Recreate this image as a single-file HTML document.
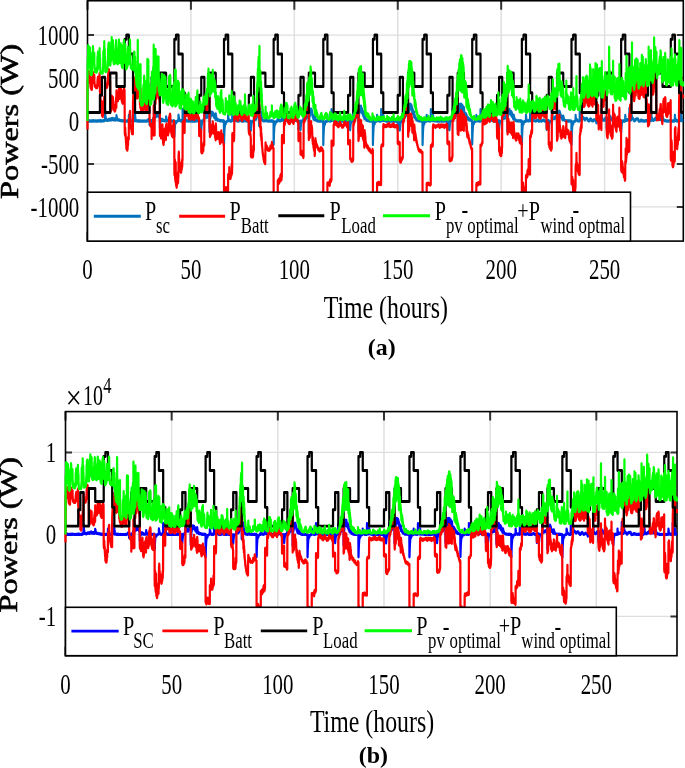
<!DOCTYPE html><html><head><meta charset="utf-8"><style>html,body{margin:0;padding:0;background:#fff;overflow:hidden}svg{display:block}text{font-family:"Liberation Serif",serif;fill:#000}</style></head><body>
<svg width="685" height="768" viewBox="0 0 685 768" style="will-change:transform">
<rect width="685" height="768" fill="#fff"/>
<defs>
<path id="p_sc" d="M0 0l1 0 1 0 1 1 1 -1 1 1 1 -1 1 -1 1 1 1 0 1 -1 1 0 1 1 1 0 1 -1 1 -1 1 2 1 -1 1 2 1 -1 1 1 1 -2 1 1 1 -1 1 0 1 0 1 2 1 -1 1 0 1 0 1 1 1 -1 1 1 1 -1 1 -1 1 1 1 0 1 -1 1 1 1 0 1 0 1 0 1 1 1 -1 1 -1 1 2 1 -2 1 1 1 0 1 -1 1 1 1 1 1 -1 1 -1 1 0 1 0 1 0 1 0 1 0 1 1 1 -1 1 1 1 -1 1 1 1 -1 1 0 1 -1 1 1 1 1 1 0 1 0 1 1 1 -1 1 0 1 -1 1 1 1 0 1 0 1 0 1 -1 1 1 1 0 1 0 1 0 1 0 1 1 1 -1 1 0 1 -1 1 1 1 0 1 0 1 0 1 -1 1 1 1 0 1 1 1 -1 1 1 1 0 1 -1 1 1 1 -1 1 -1 1 1 1 0 1 -1 1 0 1 1 1 -1 1 0 1 0 1 1 1 -1 1 0 1 0 1 0 1 0 1 -1 1 0 1 0 1 1 1 -1 1 2 1 0 1 -1 1 2 1 -2 1 2 1 -2 1 1 1 -1 1 1 1 1 1 -2 1 0 1 1 1 0 1 0 1 0 1 -1 1 1 1 0 1 0 1 0 1 0 1 -1 1 1 1 -1 1 1 1 0 1 -1 1 1 1 0 1 0 1 -1 1 1 1 -1 1 -2 1 2 1 -1 1 -1 1 -1 1 1 1 -1 1 1 1 0 1 -2 1 1 1 0 1 -75 1 14 1 11 1 9 1 9 1 6 1 4 1 6 1 2 1 4 1 1 1 3 1 -1 1 2 1 3 1 -1 1 -1 1 1 1 1 1 0 1 2 1 -1 1 -2 1 1 1 0 1 1 1 0 1 -2 1 4 1 -3 1 0 1 0 1 -3 1 -1 1 -1 1 2 1 -1 1 0 1 -1 1 3 1 0 1 -4 1 5 1 -3 1 3 1 -5 1 -1 1 0 1 1 1 1 1 -2 1 5 1 -3 1 -1 1 1 1 0 1 -1 1 6 1 -2 1 -2 1 -5 1 3 1 0 1 0 1 -2 1 -3 1 6 1 -3 1 -4 1 1 1 7 1 -4 1 3 1 -3 1 0 1 1 1 -6 1 10 1 -3 1 -3 1 3 1 -3 1 6 1 -3 1 -1 1 5 1 -4 1 -1 1 1 1 0 1 3 1 -4 1 -2 1 6 1 -2 1 1 1 2 1 -7 1 5 1 4 1 -3 1 2 1 -2 1 -2 1 1 1 -2 1 -1 1 5 1 -1 1 0 1 -30 1 7 1 4 1 0 1 8 1 -2 1 5 1 0 1 2 1 3 1 0 1 2 1 -1 1 4 1 -2 1 2 1 -2 1 1 1 0 1 1 1 0 1 1 1 0 1 -1 1 2 1 -4 1 3 1 0 1 2 1 0 1 -2 1 0 1 2 1 -1 1 1 1 0 1 0 1 0 1 0 1 1 1 0 1 -1 1 -1 1 3 1 -2 1 0 1 1 1 0 1 -1 1 0 1 2 1 0 1 1 1 -1 1 1 1 1 1 -2 1 2 1 -1 1 -1 1 1 1 0 1 -1 1 1 1 0 1 1 1 -1 1 0 1 0 1 1 1 0 1 0 1 -1 1 0 1 0 1 0 1 0 1 0 1 0 1 0 1 0 1 -1 1 0 1 1 1 1 1 -1 1 1 1 0 1 -1 1 0 1 0 1 2 1 -1 1 0 1 0 1 -1 1 1 1 0 1 1 1 -1 1 0 1 1 1 -1 1 1 1 -2 1 0 1 0 1 1 1 0 1 0 1 0 1 0 1 1 1 0 1 -1 1 0 1 -1 1 0 1 1 1 0 1 -41 1 7 1 7 1 4 1 4 1 4 1 3 1 1 1 2 1 2 1 0 1 1 1 0 1 2 1 0 1 1 1 -1 1 2 1 0 1 1 1 0 1 1 1 0 1 -1 1 1 1 -1 1 1 1 0 1 0 1 0 1 0 1 0 1 0 1 0 1 1 1 0 1 -1 1 -1 1 2 1 -1 1 -82 1 15 1 11 1 11 1 7 1 8 1 5 1 5 1 4 1 2 1 3 1 2 1 1 1 2 1 1 1 1 1 0 1 2 1 0 1 1 1 -43 1 9 1 7 1 4 1 4 1 5 1 3 1 2 1 2 1 1 1 2 1 1 1 0 1 1 1 0 1 1 1 1 1 1 1 -2 1 1 1 0 1 0 1 0 1 1 1 -2 1 2 1 1 1 -1 1 1 1 -2 1 0 1 2 1 0 1 -1 1 -1 1 3 1 -2 1 1 1 -2 1 2 1 -1 1 1 1 0 1 -2 1 1 1 0 1 1 1 0 1 -1 1 0 1 0 1 0 1 1 1 -1 1 0 1 -1 1 0 1 1 1 0 1 0 1 0 1 0 1 0 1 1 1 -1 1 0 1 0 1 0 1 0 1 1 1 -1 1 0 1 0 1 0 1 1 1 -1 1 1 1 -1 1 0 1 1 1 -1 1 0 1 0 1 0 1 0 1 1 1 -1 1 0 1 0 1 1 1 -1 1 0 1 0 1 0 1 0 1 1 1 -1 1 0 1 0 1 0 1 0 1 0 1 0 1 0 1 0 1 1 1 -1 1 -1 1 0 1 1 1 1 1 -2 1 1 1 2 1 -2 1 1 1 0 1 -1 1 -1 1 1 1 0 1 -1 1 -1 1 0 1 -2 1 0 1 -4 1 2 1 -5 1 -1 1 0 1 2 1 3 1 1 1 0 1 0 1 1 1 1 1 -1 1 3 1 28 1 -5 1 -4 1 -3 1 -2 1 -3 1 -2 1 -1 1 -1 1 -2 1 -1 1 -1 1 0 1 -1 1 -1 1 1 1 -2 1 0 1 -1 1 0 1 29 1 -6 1 -4 1 -5 1 -2 1 -4 1 -1 1 -5 1 -1 1 0 1 -2 1 -3 1 -1 1 -2 1 1 1 -7 1 3 1 -7 1 3 1 6 1 -13 1 6 1 3 1 -4 1 -3 1 6 1 0 1 1 1 1 1 -3 1 -71 1 14 1 7 1 4 1 8 1 6 1 5 1 14 1 -8 1 2 1 4 1 -3 1 2 1 0 1 2 1 -7 1 -2 1 -1 1 1 1 -8 1 0 1 -3 1 8 1 -7 1 12 1 -12 1 15 1 -1 1 -6 1 -4 1 -11 1 14 1 -1 1 -6 1 -3 1 13 1 6 1 -7 1 6 1 -4 1 5 1 2 1 5 1 -8 1 5 1 8 1 0 1 -3 1 11 1 1 1 60 1 -5 1 -13 1 -12 1 -1 1 -4 1 -12 1 -5 1 -1 1 -3 1 4 1 3 1 -6 1 5 1 -9 1 8 1 1 1 -4 1 -1 1 -2 1 4 1 -6 1 9 1 -9 1 4 1 -1 1 1 1 2 1 3 1 -3 1 3 1 -1 1 1 1 1 1 -3 1 0 1 0 1 2 1 -2 1 2 1 0 1 0 1 0 1 1 1 -1 1 0 1 1 1 0 1 1 1 -1 1 1 1 -1 1 1 1 0 1 -1 1 1 1 0 1 0 1 -1 1 1 1 -29 1 5 1 4 1 5 1 2 1 2 1 3 1 1 1 1 1 2 1 1 1 1 1 -1 1 3 1 -1 1 1 1 -1 1 0 1 0 1 2 1 -1 1 1 1 0 1 -1 1 1 1 1 1 -1 1 1 1 -1 1 0 1 0 1 -1 1 0 1 0 1 0 1 -2 1 -1 1 -1 1 2 1 -1 1 -1 1 -1 1 0 1 2 1 0 1 2 1 1 1 1 1 0 1 0 1 1 1 -1 1 0 1 0 1 1 1 -2 1 1 1 1 1 0 1 -1 1 0 1 0 1 0 1 0 1 0 1 0 1 0 1 -1 1 -1 1 3 1 -1 1 1 1 -1 1 1 1 -1 1 0 1 -1 1 0 1 -1 1 1 1 110 1 -20 1 -17 1 -15 1 -9 1 -14 1 -7 1 -4 1 -2 1 -2 1 -4 1 -2 1 -2 1 -2 1 -3 1 -1 1 9 1 -1 1 -3 1 -1 1 -2 1 -3 1 0 1 0 1 -1 1 -1 1 -1 1 1 1 0 1 -1 1 0 1 0 1 -1 1 0 1 0 1 -1 1 0 1 -2 1 0 1 0 1 -39 1 5 1 8 1 2 1 3 1 4 1 5 1 2 1 3 1 3 1 2 1 1 1 0 1 0 1 2 1 0 1 0 1 1 1 0 1 1 1 -1 1 -1 1 0 1 2 1 -1 1 1 1 0 1 -1 1 2 1 -2 1 1 1 -1 1 1 1 0 1 0 1 0 1 0 1 0 1 0 1 1 1 -85 1 16 1 12 1 10 1 7 1 7 1 6 1 4 1 4 1 5 1 -1 1 3 1 3 1 0 1 3 1 2 1 0 1 0 1 0 1 1 1 -42 1 8 1 7 1 5 1 4 1 4 1 3 1 2 1 2 1 2 1 1 1 0 1 2 1 0 1 1 1 0 1 0 1 2 1 -1 1 1 1 -1 1 0 1 3 1 -1 1 -1 1 0 1 0 1 1 1 0 1 -1 1 1 1 -1 1 2 1 -1 1 1 1 -2 1 1 1 1 1 -1 1 1 1 0 1 0 1 -1 1 0 1 -1 1 1 1 -1 1 1 1 0 1 0 1 -1 1 1 1 0 1 0 1 0 1 1 1 -2 1 1 1 0 1 1 1 -1 1 0 1 0 1 -1 1 1 1 -1 1 0 1 1 1 0 1 0 1 0 1 0 1 0 1 1 1 -1 1 1 1 -1 1 0 1 0 1 0 1 0 1 1 1 0 1 0 1 0 1 0 1 -2 1 2 1 -1 1 1 1 -1 1 0 1 0 1 0 1 -1 1 1 1 0 1 1 1 -1 1 0 1 -1 1 1 1 -1 1 2 1 -1 1 -1 1 1 1 -1 1 0 1 0 1 0 1 -2 1 0 1 1 1 0 1 1 1 -1 1 1 1 1 1 -1 1 0 1 -2 1 1 1 -2 1 0 1 1 1 -1 1 2 1 -1 1 0 1 1 1 3 1 -2 1 0 1 1 1 0 1 0 1 1 1 -2 1 2 1 60 1 -11 1 -9 1 -8 1 -6 1 -5 1 -5 1 -1 1 -4 1 -2 1 -3 1 -1 1 0 1 -2 1 -2 1 -1 1 0 1 -3 1 0 1 1 1 64 1 -13 1 -9 1 -7 1 -6 1 -5 1 -5 1 -4 1 -4 1 -1 1 -3 1 0 1 -2 1 -1 1 -2 1 -2 1 0 1 -2 1 1 1 -3 1 2 1 -4 1 1 1 -3 1 -4 1 2 1 0 1 -5 1 -1 1 3 1 -77 1 11 1 10 1 11 1 6 1 3 1 12 1 0 1 -3 1 8 1 2 1 -2 1 5 1 -4 1 6 1 -4 1 2 1 -2 1 -6 1 8 1 -4 1 2 1 7 1 -3 1 -7 1 10 1 -14 1 -5 1 14 1 -15 1 2 1 1 1 1 1 -10 1 -4 1 -5 1 6 1 11 1 -15 1 -7 1 -5 1 18 1 -8 1 -1 1 0 1 1 1 12 1 -18 1 8 1 -7 1 141 1 -25 1 -30 1 -2 1 -3 1 -20 1 -26 1 8 1 -23 1 19 1 -21 1 -13 1 -1 1 5 1 -1 1 0 1 0 1 15 1 -24 1 16 1 -1 1 0 1 -4 1 4 1 -2 1 -6 1 -6 1 20 1 -5 1 -3 1 3 1 -13 1 3 1 10 1 -9 1 9 1 9 1 2 1 -15 1 5 1 1 1 9 1 -3 1 -6 1 14 1 8 1 -21 1 4 1 2 1 2 1 -1 1 2 1 13 1 -5 1 5 1 6 1 -11 1 8 1 1 1 8 1 -40 1 5 1 13 1 -5 1 14 1 2 1 3 1 0 1 -4 1 6 1 -1 1 1 1 7 1 -2 1 -1 1 5 1 2 1 -6 1 6 1 1 1 -5 1 0 1 3 1 -2 1 2 1 0 1 2 1 -1 1 0 1 2 1 0 1 -3 1 3 1 0 1 0 1 2 1 0 1 -1 1 -1 1 2 1 -1 1 2 1 -1 1 -1 1 0 1 1 1 0 1 -1 1 2 1 1 1 -1 1 1 1 -2 1 2 1 -2 1 1 1 -1 1 1 1 0 1 0 1 0 1 0 1 1 1 0 1 -1 1 2 1 -1 1 0 1 0 1 -1 1 1 1 -1 1 2 1 -2 1 1 1 -1 1 1 1 1 1 -1 1 0 1 166 1 -29 1 -25 1 -19 1 -19 1 -14 1 -10 1 -9 1 -6 1 -8 1 -6 1 -3 1 -4 1 -2 1 -1 1 -3 1 0 1 13 1 -4 1 -4 1 -2 1 -2 1 -1 1 -1 1 -2 1 0 1 -1 1 0 1 -1 1 0 1 -1 1 0 1 -1 1 0 1 -2 1 2 1 0 1 -1 1 0 1 0 1 -41 1 8 1 7 1 5 1 3 1 3 1 4 1 2 1 1 1 1 1 2 1 0 1 1 1 2 1 0 1 0 1 1 1 1 1 -1 1 0 1 -1 1 3 1 -3 1 2 1 -1 1 0 1 0 1 1 1 1 1 -2 1 1 1 1 1 -3 1 2 1 -2 1 1 1 -2 1 1 1 -1 1 0 1 -81 1 14 1 13 1 11 1 7 1 9 1 5 1 5 1 2 1 4 1 3 1 1 1 3 1 1 1 0 1 3 1 0 1 1 1 0 1 -1 1 -40 1 7 1 7 1 6 1 4 1 2 1 2 1 4 1 3 1 0 1 2 1 0 1 0 1 1 1 0 1 1 1 0 1 1 1 0 1 1 1 -1 1 0 1 0 1 0 1 2 1 0 1 1 1 -1 1 0 1 0 1 1 1 -1 1 2 1 -2 1 1 1 2 1 -4 1 1 1 2 1 -1 1 0 1 0 1 1 1 -1 1 0 1 0 1 -1 1 0 1 -2 1 2 1 0 1 0 1 -1 1 -2 1 1 1 -2 1 0 1 1 1 0 1 -1 1 0 1 -1 1 0 1 1 1 1 1 0 1 1 1 1 1 0 1 1 1 1 1 0 1 1 1 0 1 0 1 -1 1 0 1 0 1 0 1 0 1 1 1 -2 1 1 1 -1 1 1 1 -1 1 1 1 0 1 -2 1 3 1 -2 1 0 1 1 1 -1 1 0 1 1 1 -1 1 0 1 0 1 0 1 0 1 -1 1 -1 1 -1 1 -2 1 2 1 0 1 1 1 0 1 -1 1 1 1 2 1 -1 1 -2 1 4 1 -1 1 1 1 0 1 -1 1 2 1 -1 1 -1 1 1 1 0 1 0 1 0 1 -1 1 2 1 -2 1 2 1 -1 1 0 1 2 1 -2 1 1 1 -1 1 -1 1 2 1 0 1 -2 1 62 1 -12 1 -8 1 -7 1 -7 1 -6 1 -3 1 -3 1 -3 1 -2 1 -2 1 -3 1 0 1 -1 1 -1 1 -1 1 0 1 0 1 0 1 -1 1 65 1 -12 1 -11 1 -7 1 -7 1 -6 1 -4 1 -3 1 -4 1 -2 1 -1 1 -2 1 -1 1 -1 1 -1 1 -1 1 1 1 -2 1 0 1 0 1 0 1 -1 1 0 1 0 1 0 1 -2 1 1 1 -2 1 -1 1 0 1 -76 1 13 1 12 1 9 1 7 1 6 1 6 1 3 1 3 1 1 1 4 1 -1 1 0 1 4 1 -3 1 3 1 1 1 -5 1 1 1 -3 1 0 1 0 1 4 1 -12 1 -1 1 8 1 -15 1 5 1 -17 1 2 1 -5 1 -11 1 -6 1 2 1 -9 1 15 1 -29 1 -1 1 -6 1 6 1 3 1 10 1 -34 1 -2 1 -2 1 -13 1 35 1 -21 1 3 1 -1 1 143 1 -47 1 -19 1 -31 1 30 1 -23 1 -4 1 9 1 -20 1 14 1 -24 1 2 1 -7 1 24 1 9 1 -7 1 19 1 5 1 -26 1 23 1 1 1 16 1 -19 1 13 1 1 1 -1 1 18 1 -5 1 0 1 4 1 2 1 -1 1 1 1 5 1 -3 1 3 1 -1 1 2 1 1 1 -1 1 3 1 -2 1 2 1 -2 1 1 1 1 1 0 1 -1 1 1 1 0 1 0 1 0 1 0 1 1 1 -1 1 1 1 0 1 0 1 0 1 -1 1 -27 1 4 1 4 1 4 1 4 1 1 1 2 1 2 1 1 1 3 1 -1 1 1 1 0 1 2 1 -1 1 1 1 -1 1 2 1 0 1 -2 1 2 1 0 1 0 1 0 1 -1 1 0 1 1 1 1 1 -2 1 0 1 0 1 0 1 1 1 0 1 1 1 0 1 -2 1 1 1 -1 1 1 1 0 1 0 1 -1 1 1 1 1 1 -1 1 -1 1 1 1 0 1 -1 1 1 1 1 1 -1 1 0 1 0 1 0 1 -1 1 1 1 1 1 -1 1 -1 1 1 1 -1 1 1 1 1 1 -2 1 2 1 0 1 -2 1 1 1 0 1 1 1 0 1 0 1 -1 1 0 1 1 1 -1 1 1 1 0 1 166 1 -30 1 -24 1 -22 1 -15 1 -15 1 -11 1 -10 1 -6 1 -7 1 -4 1 -5 1 -2 1 -3 1 -4 1 -1 1 14 1 -5 1 -2 1 -2 1 -4 1 0 1 -3 1 -1 1 0 1 -1 1 -1 1 -1 1 1 1 -2 1 2 1 -2 1 0 1 0 1 -1 1 1 1 -1 1 0 1 1 1 0 1 -40 1 6 1 7 1 4 1 3 1 4 1 2 1 3 1 3 1 0 1 1 1 1 1 1 1 0 1 1 1 1 1 0 1 0 1 1 1 0 1 0 1 1 1 -2 1 2 1 -2 1 0 1 1 1 -2 1 2 1 0 1 -1 1 -1 1 -3 1 2 1 0 1 1 1 0 1 -2 1 -1 1 2 1 -83 1 14 1 14 1 9 1 9 1 8 1 3 1 5 1 4 1 5 1 1 1 4 1 2 1 1 1 3 1 0 1 2 1 0 1 1 1 0 1 -42 1 8 1 7 1 5 1 4 1 5 1 2 1 2 1 3 1 1 1 1 1 0 1 1 1 1 1 1 1 -1 1 1 1 0 1 -1 1 -1 1 -1 1 0 1 -1 1 2 1 -1 1 0 1 -1 1 0 1 0 1 0 1 0 1 1 1 0 1 0 1 -1 1 1 1 2 1 1 1 1 1 1 1 0 1 0 1 2 1 -1 1 0 1 0 1 1 1 -1 1 1 1 -1 1 0 1 0 1 0 1 0 1 1 1 -1 1 0 1 0 1 -1 1 0 1 2 1 -1 1 -1 1 0 1 1 1 1 1 -1 1 0 1 1 1 -1 1 0 1 0 1 -2 1 0 1 -1 1 0 1 -1 1 1 1 -1 1 1 1 -2 1 1 1 2 1 1 1 0 1 1 1 -1 1 0 1 1 1 0 1 1 1 -1 1 0 1 -2 1 2 1 1 1 -1 1 0 1 1 1 -1 1 -1 1 -1 1 0 1 0 1 -1 1 0 1 0 1 0 1 0 1 -1 1 0 1 -1 1 -1 1 0 1 0 1 1 1 -1 1 0 1 1 1 1 1 0 1 -1 1 -1 1 1 1 0 1 1 1 0 1 0 1 0 1 3 1 -1 1 1 1 2 1 0 1 -1 1 0 1 1 1 -1 1 0 1 0 1 60 1 -10 1 -9 1 -8 1 -5 1 -5 1 -5 1 -3 1 -2 1 -4 1 -1 1 -2 1 -1 1 -1 1 -1 1 -1 1 -2 1 2 1 -1 1 -1 1 63 1 -12 1 -10 1 -7 1 -7 1 -5 1 -5 1 -3 1 -4 1 -2 1 -2 1 -2 1 0 1 -1 1 -1 1 -3 1 2 1 -2 1 0 1 1 1 0 1 -1 1 -1 1 2 1 -1 1 -1 1 0 1 0 1 1 1 -2 1 -74 1 12 1 13 1 9 1 5 1 6 1 6 1 5 1 1 1 1 1 2 1 4 1 -3 1 5 1 -3 1 -1 1 0 1 -2 1 2 1 3 1 -10 1 7 1 -4 1 -3 1 0 1 -6 1 -2 1 0 1 -8 1 2 1 -5 1 15 1 -8 1 -9 1 -6 1 -2 1 16 1 -6 1 -15 1 -4 1 6 1 11 1 -5 1 4 1 -4 1 -17 1 20 1 -26 1 25 1 -26 1 157 1 -42 1 -21 1 -17 1 -24 1 5 1 -14 1 -2 1 -25 1 7 1 11 1 -7 1 -23 1 6 1 -15 1 17 1 -12 1 -7 1 -1 1 7 1 5 1 -7 1 -12 1 19 1 3 1 8 1 -6 1 -10 1 2 1 -6 1 6 1 5 1 5 1 10 1 7 1 1 1 8 1 -1 1 -8 1 15 1 -14 1 11 1 7 1 -6 1 -1 1 18 1 -15 1 1 1 13 1 -8 1 7 1 -5 1 2 1 4 1 -3 1 0 1 2 1 7 1 0 1 -3 1 -28 1 5 1 5 1 7 1 0 1 4 1 3 1 2 1 3 1 2 1 0 1 1 1 3 1 -1 1 -1 1 1 1 0 1 0 1 1 1 2 1 -1 1 2 1 -2 1 -1 1 2 1 0 1 2 1 -1 1 1 1 -1 1 0 1 1 1 -1 1 2 1 -1 1 0 1 0 1 0 1 -1 1 2 1 -1 1 0 1 -1 1 0 1 1 1 0 1 0 1 -1 1 2 1 -2 1 0 1 1 1 0 1 0 1 -1 1 2 1 -2 1 1 1 0 1 0 1 0 1 1 1 0 1 0 1 -2 1 0 1 1 1 -1 1 1 1 0 1 0 1 1 1 0 1 -1 1 0 1 1 1 -1 1 0 1 -1 1 1 1 168 1 -31 1 -25 1 -20 1 -16 1 -15 1 -11 1 -9 1 -6 1 -7 1 -5 1 -5 1 -3 1 -2 1 -3 1 -2 1 15 1 -6 1 -3 1 -2 1 -3 1 0 1 -3 1 0 1 -1 1 -1 1 -1 1 -1 1 0 1 0 1 0 1 1 1 -2 1 1 1 -2 1 0 1 0 1 1 1 -1 1 0 1 -40 1 8 1 6 1 3 1 5 1 3 1 3 1 2 1 2 1 1 1 1 1 1 1 2 1 0 1 0 1 1 1 1 1 -1 1 0 1 1 1 1 1 -2 1 1 1 0 1 1 1 1 1 0 1 -1 1 0 1 0 1 1 1 0 1 -1 1 0 1 -1 1 0 1 -1 1 0 1 1 1 0 1 -81 1 13 1 13 1 9 1 9 1 7 1 5 1 4 1 4 1 5 1 2 1 3 1 0 1 1 1 2 1 2 1 0 1 0 1 1 1 0 1 -42 1 9 1 5 1 6 1 5 1 3 1 3 1 2 1 2 1 2 1 1 1 2 1 -1 1 2 1 0 1 1 1 1 1 0 1 0 1 0 1 1 1 -1 1 0 1 0 1 0 1 0 1 1 1 -1 1 0 1 1 1 0 1 0 1 0 1 0 1 0 1 0 1 0 1 -2 1 2 1 0 1 0 1 2 1 -2 1 0 1 -1 1 1 1 0 1 0 1 0 1 0 1 0 1 1 1 -1 1 0 1 -1 1 1 1 0 1 -1 1 0 1 0 1 0 1 1 1 0 1 -1 1 0 1 0 1 1 1 1 1 -1 1 1 1 -2 1 1 1 1 1 -1 1 -1 1 1 1 -1 1 0 1 2 1 -2 1 1 1 0 1 -1 1 1 1 0 1 1 1 -1 1 0 1 1 1 0 1 -1 1 0 1 0 1 1 1 -1 1 0 1 0 1 0 1 -1 1 1 1 0 1 0 1 0 1 0 1 -1 1 1 1 0 1 -1 1 0 1 -1 1 0 1 0 1 0 1 1 1 -1 1 1 1 1 1 -2 1 0 1 1 1 0 1 0 1 -2 1 1 1 2 1 -1 1 0 1 -1 1 2 1 1 1 -1 1 0 1 0 1 1 1 -1 1 -1 1 2 1 -2 1 1 1 -1 1 62 1 -11 1 -10 1 -7 1 -5 1 -6 1 -3 1 -3 1 -5 1 -1 1 -1 1 -2 1 -1 1 -1 1 -1 1 -2 1 0 1 -2 1 1 1 -2 1 64 1 -11 1 -10 1 -7 1 -8 1 -5 1 -4 1 -3 1 -3 1 -2 1 -3 1 -1 1 -1 1 -1 1 -1 1 0 1 -2 1 1 1 -1 1 0 1 0 1 -1 1 -1 1 0 1 -1 1 1 1 -2 1 1 1 0 1 -1 1 -74 1 13 1 10 1 12 1 4 1 7 1 5 1 3 1 0 1 6 1 -1 1 0 1 1 1 1 1 1 1 1 1 -5 1 2 1 3 1 -6 1 -2 1 -4 1 0 1 0 1 1 1 -2 1 5 1 -4 1 -10 1 4 1 0 1 4 1 -4 1 -5 1 -7 1 -6 1 8 1 -4 1 -13 1 14 1 4 1 -1 1 -21 1 -4 1 -8 1 21 1 3 1 -11 1 -3 1 8 1 135 1 -36 1 -23 1 0 1 -52 1 5 1 -17 1 -25 1 -9 1 1 1 5 1 -10 1 -3 1 7 1 -27 1 40 1 -8 1 -16 1 -1 1 25 1 -4 1 -21 1 -14 1 8 1 30 1 -39 1 24 1 -11 1 28 1 -20 1 16 1 -7 1 17 1 0 1 -27 1 17 1 -17 1 13 1 21 1 -23 1 14 1 12 1 2 1 -24 1 20 1 -7 1 22 1 -14 1 4 1 -4 1 4 1 8 1 -5 1 17 1 -10 1 -2 1 20 1 -1 1 -11 1 3 1 -28 1 6 1 18 1 -6 1 8 1 2 1 11 1 -9 1 11 1 2 1 -4 1 4 1 1 1 1 1 2 1 -4 1 0 1 3 1 4 1 -2 1 0 1 2 1 -2 1 2 1 0 1 0 1 1 1 1 1 1 1 0 1 -1 1 1 1 -2 1 2 1 -1 1 2 1 0 1 0 1 0 1 0 1 0 1 1 1 -1 1 1 1 -1 1 0 1 0 1 2 1 -3 1 1 1 1 1 0 1 1 1 0 1 -2 1 1 1 1 1 -1 1 -1 1 1 1 0 1 -1 1 1 1 0 1 0 1 1 1 0 1 -1 1 0 1 0 1 0 1 0 1 0 1 1 1 0 1 -1 1 1 1 -1 1 0 1 1 1 167 1 -31 1 -25 1 -20 1 -17 1 -13 1 -11 1 -10 1 -8 1 -5 1 -6 1 -4 1 -4 1 -1 1 -4 1 -1 1 14 1 -4 1 -4 1 -2 1 -2 1 -3 1 0 1 -1 1 -2 1 -1 1 -1 1 1 1 -2 1 0 1 -1 1 2 1 -1 1 0 1 1 1 -1 1 -1 1 1 1 0 1 -1 1 -41 1 8 1 7 1 4 1 3 1 5 1 2 1 2 1 1 1 3 1 2 1 0 1 1 1 0 1 0 1 1 1 1 1 0 1 0 1 0 1 1 1 -2 1 1 1 1 1 0 1 0 1 1 1 -1 1 0 1 -1 1 1 1 0 1 1 1 0 1 -1 1 0 1 -1 1 1 1 -1 1 1 1 -82 1 16 1 12 1 8 1 8 1 8 1 5 1 5 1 4 1 3 1 1 1 3 1 2 1 1 1 1 1 1 1 1 1 -1 1 2 1 0 1 -42 1 8 1 7 1 5 1 5 1 3 1 4 1 1 1 3 1 0 1 3 1 1 1 0 1 1 1 0 1 0 1 1 1 0 1 1 1 0 1 0 1 1 1 0 1 0 1 0 1 -1 1 1 1 0 1 -1 1 2 1 -1 1 -1 1 3 1 -2 1 0 1 1 1 -3 1 4 1 -3 1 0 1 0 1 1 1 0 1 1 1 -1 1 1 1 -1 1 -1 1 2 1 -1 1 0 1 1 1 -2 1 1 1 1 1 -1 1 0 1 0 1 0 1 0 1 -1 1 1 1 -1 1 1 1 -1 1 1 1 0 1 1 1 -1 1 -1 1 0 1 0 1 1 1 0 1 0 1 0 1 -1 1 0 1 2 1 -1 1 -1 1 1 1 0 1 -1 1 1 1 0 1 0 1 1 1 -2 1 2 1 -1 1 0 1 -1 1 1 1 0 1 1 1 -1 1 0 1 -1 1 0 1 0 1 -1 1 1 1 0 1 0 1 0 1 0 1 0 1 2 1 -2 1 1 1 -1 1 1 1 1 1 0 1 -2 1 1 1 1 1 -1 1 0 1 1 1 0 1 0 1 -1 1 0 1 0 1 0 1 0 1 1 1 -1 1 0 1 1 1 -1 1 0 1 0 1 1 1 -1 1 -1 1 2 1 0 1 60 1 -12 1 -9 1 -6 1 -8 1 -4 1 -3 1 -4 1 -3 1 -3 1 -1 1 -2 1 -1 1 -1 1 -1 1 1 1 -1 1 -2 1 1 1 -1 1 64 1 -12 1 -10 1 -9 1 -4 1 -7 1 -5 1 -3 1 -3 1 -3 1 -3 1 1 1 -3 1 -1 1 -2 1 0 1 -1 1 -1 1 0 1 -1 1 -2 1 0 1 -1 1 1 1 -2 1 1 1 -2 1 -1 1 0 1 -1 1 -75 1 12 1 14 1 7 1 4 1 8 1 4 1 3 1 3 1 2 1 1 1 -1 1 -4 1 3 1 -3 1 -1 1 4 1 3 1 -7 1 0 1 -5 1 3 1 -8 1 -4 1 5 1 -8 1 0 1 8 1 4 1 -15 1 3 1 -2 1 -4 1 5 1 4 1 -3 1 3 1 -17 1 -4 1 -10 1 16 1 0 1 -14 1 5 1 -14 1 25 1 -8 1 -2 1 -24 1 17 1 140 1 -21 1 -27 1 -41 1 -8 1 3 1 -34 1 16 1 -40 1 -4 1 12 1 12 1 -42 1 12 1 13 1 -19 1 21 1 -19 1 -15 1 -3 1 21 1 5 1 -22 1 10 1 -12 1 16 1 -9 1 5 1 2 1 18 1 -9 1 -20 1 14 1 -8 1 1 1 20 1 3 1 11 1 -13 1 -9 1 28 1 15 1 -33 1 14 1 -11 1 2 1 14 1 3 1 3 1 -7 1 4 1 13 1 3 1 4 1 1 1 -2 1 4 1 1 1 11 1 -7 1 -26 1 8 1 6 1 9 1 8 1 4 1 -6 1 -1 1 12 1 -1 1 1 1 -3 1 7 1 -5 1 1 1 9 1 -5 1 2 1 0 1 3 1 1 1 2 1 2 1 -2 1 1 1 -2 1 1 1 0 1 2 1 1 1 -1 1 1 1 3 1 0 1 -3 1 4 1 1 1 -1 1 1 1 0 1 0 1 -2 1 0 1 0 1 2 1 0 1 1 1 -1 1 0 1 0 1 0 1 1 1 -1 1 0 1 1 1 0 1 0 1 -1 1 1 1 1 1 0 1 0 1 0 1 0 1 0 1 1 1 -1 1 -1 1 1 1 0 1 -1 1 1 1 1 1 0 1 -1 1 -1 1 0 1 1 1 1 1 -1 1 168 1 -31 1 -24 1 -21 1 -17 1 -13 1 -12 1 -8 1 -7 1 -7 1 -6 1 -4 1 -3 1 -3 1 -2 1 -3 1 15 1 -4 1 -4 1 -1 1 -3 1 -1 1 -3 1 -1 1 -1 1 0 1 -2 1 1 1 -1 1 -1 1 -1 1 1 1 1 1 -1 1 -1 1 0 1 -1 1 2 1 -1 1 1 1 -42 1 8 1 6 1 5 1 5 1 3 1 2 1 3 1 0 1 2 1 1 1 2 1 0 1 1 1 0 1 1 1 0 1 1 1 1 1 0 1 0 1 -1 1 0 1 1 1 0 1 -1 1 1 1 0 1 0 1 0 1 0 1 0 1 -1 1 2 1 -1 1 0 1 0 1 0 1 0 1 -1 1 -81 1 15 1 12 1 10 1 8 1 6 1 6 1 5 1 3 1 4 1 2 1 3 1 0 1 2 1 2 1 0 1 0 1 2 1 -1 1 1 1 -41 1 7 1 7 1 5 1 3 1 6 1 2 1 2 1 3 1 1 1 1 1 0 1 3 1 0 1 0 1 1 1 1 1 -1 1 1 1 0 1 0 1 0 1 0 1 0 1 1 1 0 1 0 1 0 1 0 1 0 1 -1 1 0 1 1 1 0 1 0 1 -1 1 1 1 0 1 0 1 0 1 1 1 -1 1 0 1 0 1 0 1 -1 1 1 1 -1 1 2 1 -1 1 0 1 0 1 0 1 -1 1 2 1 -1 1 1 1 -2 1 2 1 -1 1 1 1 -2 1 2 1 -1 1 0 1 1 1 -1 1 0 1 0 1 -1 1 1 1 0 1 0 1 0 1 -1 1 1 1 0 1 0 1 0 1 -1 1 2 1 -1 1 0 1 0 1 -1 1 2 1 -2 1 0 1 1 1 0 1 -1 1 -1 1 2 1 1 1 -2 1 0 1 1 1 1 1 -2 1 1 1 -1 1 1 1 0 1 0 1 -1 1 0 1 2 1 0 1 -2 1 1 1 1 1 -1 1 0 1 0 1 0 1 0 1 0 1 0 1 0 1 0 1 0 1 -1 1 1 1 0 1 -1 1 0 1 0 1 0 1 0 1 0 1 1 1 0 1 -1 1 0 1 0 1 1 1 0 1 -1 1 0 1 0 1 62 1 -13 1 -8 1 -8 1 -6 1 -3 1 -5 1 -2 1 -4 1 -1 1 -3 1 -2 1 -2 1 0 1 -1 1 -1 1 0 1 -1 1 -1 1 0 1 63 1 -11 1 -10 1 -9 1 -7 1 -4 1 -4 1 -4 1 -4 1 -2 1 -1 1 -3 1 -3 1 1 1 -1 1 -1 1 -1 1 0 1 -3 1 -2 1 2 1 -2 1 2 1 -1 1 -2 1 1 1 -2 1 -2 1 -2 1 -1 1 -74 1 16 1 8 1 7 1 9 1 3 1 6 1 6 1 -1 1 0 1 2 1 -1 1 3 1 5 1 3 1 -7 1 1 1 -1 1 -1 1 -5 1 11 1 -6 1 -7 1 12 1 -6 1 -10 1 -4 1 8 1 -4 1 1 1 -6 1 6 1 -2 1 -8 1 -5 1 12 1 -1 1 0 1 -9 1 -2 1 -2 1 16 1 -32 1 1 1 -6 1 15 1 6 1 -23 1 8 1 -13 1 145 1 -40 1 -20 1 -16 1 -2 1 -18 1 3 1 -6 1 -38 1 0 1 2 1 -18 1 7 1 -2 1 4 1 -25 1 8 1 10 1 -2 1 -12 1 -6 1 -8 1 40 1 4 1 -15 1 -16 1 3 1 31 1 -12 1 -6 1 1 1 -11 1 -22 1 32 1 -13 1 35 1 -52 1 52 1 -49 1 34 1 -29 1 39 1 -20 1 31 1 -21 1 -29 1 32 1 -16 1 26 1 -6 1 -18 1 -10 1 7 1 8 1 -2 1 -9 1 40 1 -34 1 36 1 4 1 -42 1 8 1 15 1 18 1 -7 1 17 1 -11 1 1 1 18 1 -12 1 6 1 -14 1 18 1 -11 1 5 1 1 1 8 1 -13 1 -5 1 23 1 -8 1 -10 1 3 1 24 1 1 1 0 1 -23 1 23 1 -16 1 12 1 5 1 -7 1 5 1 6 1 -14 1 10 1 -8 1 7 1 0 1 5 1 -10 1 9 1 -7 1 11 1 -8 1 0 1 3 1 4 1 -2 1 -3 1 2 1 9 1 -3 1 -4 1 4 1 4 1 -2 1 -2 1 1 1 -2 1 3 1 0 1 -1 1 3 1 -2 1 2 1 1 1 -1 1 0 1 0 1 2 1 1 1 -1 1 0 1 0 1 0 1 1 1 0 1 0 1 1 1 167 1 -29 1 -27 1 -19 1 -17 1 -12 1 -12 1 -8 1 -9 1 -5 1 -5 1 -5 1 -3 1 -3 1 -1 1 -1 1 12 1 -4 1 -2 1 -4 1 -1 1 -2 1 -2 1 -1 1 -2 1 1 1 -2 1 0 1 1 1 -1 1 -1 1 0 1 0 1 -1 1 1 1 0 1 1 1 -2 1 1 1 -1 1 -40 1 8 1 4 1 5 1 4 1 5 1 2 1 2 1 2 1 2 1 0 1 1 1 1 1 1 1 0 1 1 1 2 1 -1 1 0 1 -1 1 1 1 1 1 0 1 -1 1 1 1 0 1 0 1 -1 1 1 1 1 1 -1 1 0 1 0 1 0 1 -1 1 0 1 1 1 0 1 1 1 -2 1 -81 1 14 1 13 1 11 1 6 1 8 1 5 1 5 1 3 1 3 1 4 1 0 1 3 1 1 1 0 1 1 1 2 1 1 1 0 1 0 1 -42 1 8 1 6 1 6 1 2 1 3 1 2 1 3 1 1 1 2 1 2 1 0 1 0 1 1 1 0 1 2 1 0 1 2 1 0 1 0 1 0 1 2 1 0 1 1 1 1 1 0 1 -2 1 2 1 -1 1 1 1 1 1 0 1 0 1 0 1 -2 1 1 1 0 1 -2 1 0 1 1 1 -1 1 1 1 0 1 -1 1 0 1 0 1 -2 1 -1 1 0 1 -1 1 0 1 0 1 -1 1 -1 1 1 1 0 1 1 1 0 1 0 1 -2 1 0 1 1 1 -1 1 0 1 1 1 1 1 2 1 1 1 1 1 0 1 -2 1 1 1 -1 1 2 1 -1 1 -1 1 0 1 0 1 0 1 -1 1 1 1 -3 1 1 1 -2 1 2 1 -1 1 0 1 -2 1 1 1 -1 1 1 1 0 1 -1 1 2 1 0 1 -1 1 1 1 0 1 0 1 0 1 0 1 2 1 0 1 1 1 2 1 1 1 2 1 -1 1 -1 1 2 1 -2 1 2 1 0 1 0 1 -2 1 1 1 0 1 0 1 -1 1 2 1 -1 1 -1 1 1 1 0 1 0 1 -1 1 -1 1 -1 1 -1 1 0 1 2 1 0 1 0 1 -1 1 2 1 1 1 1 1 -1 1 0 1 1 1 61 1 -11 1 -11 1 -6 1 -6 1 -6 1 -4 1 -3 1 -3 1 -2 1 -3 1 -1 1 0 1 -2 1 -1 1 -2 1 -1 1 -2 1 -1 1 -1 1 64 1 -12 1 -9 1 -8 1 -8 1 -2 1 -6 1 -4 1 -1 1 -1 1 -1 1 -2 1 -1 1 -1 1 0 1 -2 1 1 1 -2 1 0 1 0 1 -1 1 0 1 0 1 -1 1 0 1 0 1 -1 1 -1 1 -2 1 -2 1 -76 1 12 1 11 1 9 1 6 1 6 1 5 1 5 1 1 1 2 1 4 1 1 1 -3 1 2 1 4 1 -2 1 -2 1 -3 1 3 1 -2 1 3 1 -2 1 -4 1 5 1 -2 1 4 1 -7 1 5 1 -13 1 5 1 1 1 -2 1 8 1 -12 1 -4 1 10 1 -7 1 -7 1 14 1 -16 1 5 1 -10 1 7 1 -11 1 5 1 10 1 -6 1 -8 1 -9 1 16 1 120 1 -21 1 -9 1 -46 1 -6 1 -7 1 -24 1 -13 1 -1 1 0 1 -16 1 -6 1 18 1 -11 1 18 1 -23 1 1 1 12 1 1 1 -9 1 -15 1 12 1 10 1 5 1 -18 1 12 1 4 1 -4 1 -3 1 14 1 0 1 1 1 -2 1 0 1 -11 1 -2 1 -3 1 29 1 -16 1 10 1 5 1 -19 1 -2 1 4 1 24 1 -20 1 24 1 -4 1 -9 1 11 1 1 1 -3 1 -6 1 14 1 -1 1 6 1 3 1 3 1 -8 1 1 1 -22 1 3 1 0 1 11 1 3 1 0 1 10 1 -6 1 4 1 2 1 -1 1 4 1 2 1 2 1 -3 1 4 1 0 1 1 1 1 1 -1 1 4 1 -3 1 3 1 -1 1 1 1 -1 1 1 1 -1 1 0 1 2 1 0 1 1 1 -1 1 -1 1 2 1 -1 1 2 1 0 1 0 1 0 1 -1 1 0 1 0 1 0 1 1 1 0 1 0 1 -2 1 3 1 -1 1 -1 1 0 1 1 1 0 1 -1 1 0 1 1 1 -1 1 1 1 -1 1 0 1 1 1 1 1 -1 1 -1 1 1 1 0 1 -1 1 2 1 -2 1 1 1 0 1 0 1 -1 1 2 1 -1 1 1 1 -1 1 0 1 0 1 168 1 -31 1 -25 1 -20 1 -17 1 -14 1 -10 1 -9 1 -9 1 -5 1 -6 1 -2 1 -4 1 -2 1 -3 1 -3 1 14 1 -4 1 -3 1 -3 1 -2 1 -2 1 -1 1 0 1 -2 1 -2 1 0 1 0 1 -1 1 0 1 -1 1 0 1 1 1 1 1 -2 1 1 1 0 1 -2 1 0 1 1 1 -42 1 8 1 7 1 4 1 5 1 3 1 3 1 2 1 0 1 3 1 1 1 1 1 0 1 1 1 0 1 1 1 1 1 0 1 0 1 1 1 -1 1 -1 1 1 1 -1 1 0 1 1 1 -3 1 0 1 -2 1 0 1 0 1 0 1 -1 1 1 1 2 1 -1 1 1 1 1 1 2 1 1 1 -82 1 16 1 11 1 10 1 8 1 7 1 6 1 4 1 4 1 2 1 3 1 2 1 2 1 1 1 2 1 0 1 1 1 0 1 0 1 0 1 -42 1 8 1 6 1 5 1 5 1 3 1 3 1 2 1 1 1 1 1 1 1 2 1 2 1 0 1 1 1 0 1 1 1 1 1 0 1 2 1 0 1 -1 1 1 1 0 1 1 1 0 1 -1 1 1 1 0 1 0 1 0 1 0 1 0 1 -1 1 1 1 1 1 0 1 0 1 -1 1 0 1 0 1 -1 1 -1 1 0 1 0 1 -1 1 0 1 -3 1 1 1 -2 1 0 1 2 1 0 1 1 1 -1 1 -1 1 0 1 0 1 1 1 1 1 2 1 1 1 1 1 1 1 -1 1 0 1 1 1 -2 1 2 1 0 1 -1 1 1 1 0 1 0 1 0 1 -1 1 0 1 -1 1 1 1 -1 1 1 1 0 1 -1 1 1 1 0 1 -1 1 1 1 0 1 0 1 -1 1 2 1 -1 1 1 1 -2 1 0 1 -2 1 0 1 0 1 -1 1 0 1 0 1 -1 1 0 1 1 1 -1 1 0 1 0 1 -1 1 1 1 -1 1 1 1 0 1 -1 1 1 1 1 1 1 1 1 1 1 1 0 1 1 1 1 1 0 1 -2 1 0 1 0 1 1 1 1 1 -1 1 0 1 0 1 0 1 0 1 -1 1 0 1 1 1 1 1 -2 1 1 1 -1 1 0 1 62 1 -12 1 -10 1 -8 1 -6 1 -6 1 -4 1 -4 1 -5 1 -1 1 -1 1 -3 1 1 1 -2 1 -2 1 -1 1 0 1 -2 1 1 1 0 1 64 1 -11 1 -10 1 -9 1 -7 1 -5 1 -3 1 -2 1 -3 1 -1 1 -3 1 -1 1 -1 1 0 1 0 1 0 1 -2 1 1 1 -1 1 -1 1 0 1 0 1 -1 1 0 1 0 1 0 1 -1 1 2 1 -2 1 1 1 -75 1 13 1 11 1 8 1 8 1 8 1 3 1 2 1 4 1 0 1 -1 1 1 1 2 1 -2 1 0 1 1 1 -1 1 0 1 1 1 0 1 -4 1 3 1 -3 1 2 1 0 1 -4 1 6 1 -8 1 2 1 -5 1 6 1 -2 1 -1 1 5 1 -7 1 2 1 2 1 -7 1 -1 1 3 1 -2 1 -3 1 0 1 4 1 1 1 -9 1 9 1 -4 1 -4 1 -2 1 146 1 -37 1 -23 1 -18 1 -15 1 4 1 -12 1 -20 1 -15 1 3 1 -5 1 -7 1 2 1 -20 1 -5 1 4 1 -7 1 14 1 4 1 1 1 -11 1 -14 1 5 1 -6 1 5 1 -4 1 13 1 4 1 -12 1 16 1 1 1 8 1 -14 1 7 1 9 1 8 1 -11 1 1 1 4 1 3 1 -2 1 -2 1 15 1 -13 1 11 1 -1 1 0 1 0 1 -4 1 10 1 4 1 -2 1 4 1 -9 1 13 1 -9 1 6 1 1 1 2 1 0 1 -27 1 3 1 4 1 3 1 4 1 -1 1 9 1 -3 1 5 1 1 1 3 1 -3 1 4 1 -1 1 1 1 0 1 0 1 1 1 1 1 0 1 2 1 0 1 -1 1 1 1 1 1 -2 1 1 1 1 1 0 1 1 1 0 1 -1 1 0 1 1 1 0 1 0 1 -1 1 1 1 -1 1 1 1 1 1 0 1 -1 1 -1 1 0 1 1 1 -1 1 2 1 -2 1 1 1 -1 1 1 1 0 1 0 1 1 1 -1 1 -1 1 -1 1 2 1 0 1 1 1 -2 1 2 1 0 1 -1 1 1 1 -2 1 0 1 1 1 0 1 1 1 0 1 -1 1 0 1 0 1 0 1 0 1 0 1 1 1 -1 1 167 1 -31 1 -23 1 -21 1 -18 1 -13 1 -10 1 -9 1 -8 1 -7 1 -4 1 -5 1 -3 1 -4 1 -1 1 -2 1 14 1 -5 1 -3 1 -1 1 -3 1 -1 1 -2 1 -1 1 -1 1 -1 1 0 1 -2 1 0 1 0 1 0 1 -1 1 1 1 0 1 -2 1 0 1 0 1 0 1 1 1 0 1 -41 1 8 1 6 1 5 1 3 1 1 1 2 1 3 1 -2 1 2 1 0 1 3 1 0 1 2 1 -1 1 0 1 1 1 3 1 0 1 0 1 1 1 2 1 0 1 1 1 -1 1 0 1 1 1 0 1 0 1 1 1 0 1 -2 1 2 1 -2 1 1 1 0 1 0 1 0 1 -1 1 1 1 -82 1 15 1 11 1 10 1 10 1 6 1 6 1 4 1 3 1 2 1 5 1 0 1 2 1 1 1 0 1 -1 1 0 1 0 1 2 1 -3 1 -43 1 5 1 6 1 4 1 4 1 2 1 4 1 3 1 0 1 0 1 1 1 1 1 1 1 -1 1 1 1 0 1 -2 1 0 1 3 1 0 1 2 1 2 1 2 1 1 1 1 1 1 1 0 1 1 1 0 1 1 1 1 1 -3 1 -2 1 0 1 -1 1 -1 1 -2 1 0 1 0 1 0 1 -1 1 -1 1 2 1 0 1 0 1 1 1 -1 1 0 1 -1 1 -1 1 1 1 2 1 0 1 2 1 0 1 2 1 2 1 2 1 1 1 3 1 0 1 1 1 1 1 0 1 1 1 1 1 -1 1 1 1 -1 1 1 1 -1 1 1 1 -1 1 0 1 -1 1 -2 1 0 1 0 1 -3 1 -4 1 -2 1 2 1 -2 1 1 1 0 1 -2 1 -2 1 2 1 1 1 -1 1 1 1 2 1 1 1 2 1 0 1 2 1 1 1 1 1 2 1 1 1 0 1 1 1 -2 1 2 1 0 1 -1 1 1 1 0 1 0 1 0 1 -3 1 -2 1 1 1 -1 1 -2 1 -2 1 3 1 -1 1 -1 1 1 1 0 1 -2 1 1 1 1 1 -1 1 1 1 2 1 0 1 0 1 2 1 2 1 0 1 -3 1 1 1 1 1 2 1 0 1 -1 1 1 1 0 1 14 1 -3 1 -2 1 -1 1 -2 1 0 1 -1 1 -2 1 0 1 -1 1 0 1 -1 1 0 1 0 1 0 1 -1 1 0 1 -4 1 2 1 -1 1 12 1 -3 1 -3 1 -2 1 1 1 -2 1 -2 1 -4 1 -2 1 -1 1 -1 1 0 1 0 1 -1 1 0 1 0 1 -3 1 2 1 1 1 0 1 0 1 0 1 -1 1 0 1 3 1 1 1 0 1 1 1 1 1 1 1 -72 1 14 1 12 1 7 1 9 1 6 1 4 1 4 1 4 1 1 1 4 1 1 1 2 1 0 1 1 1 2 1 0 1 -1 1 1 1 0 1 0 1 0 1 -1 1 0 1 1 1 2 1 -2 1 0 1 0 1 -1 1 -3 1 1 1 -4 1 3 1 -1 1 -6 1 5 1 -4 1 -4 1 0 1 -2 1 5 1 1 1 0 1 -2 1 -4 1 8 1 -5 1 -2 1 2 1 71 1 -15 1 -4 1 -18 1 4 1 -2 1 -13 1 -6 1 -2 1 3 1 -7 1 -7 1 -3 1 -1 1 13 1 -5 1 -11 1 7 1 -9 1 3 1 -3 1 -2 1 9 1 1 1 -14 1 3 1 -2 1 0 1 5 1 -8 1 -4 1 3 1 6 1 1 1 -5 1 12 1 3 1 -7 1 1 1 1 1 6 1 4 1 -3 1 -3 1 -1 1 6 1 -5 1 2 1 3 1 0 1 1 1 3 1 -3 1 2 1 0 1 -1 1 0 1 2 1 0 1 -3 1 -26 1 7 1 4 1 4 1 -1 1 3 1 3 1 1 1 4 1 4 1 0 1 3 1 -4 1 6 1 -3 1 -1 1 3 1 -1 1 1 1 1 1 -1 1 1 1 1 1 0 1 0 1 -1 1 1 1 -1 1 1 1 2 1 -1 1 0 1 1 1 -2 1 1 1 0 1 1 1 -1 1 0 1 1 1 -1 1 2 1 -2 1 1 1 1 1 -1 1 0 1 -1 1 1 1 0 1 0 1 -2 1 1 1 0 1 1 1 -1 1 1 1 0 1 -1 1 2 1 0 1 0 1 0 1 -4 1 2 1 2 1 -1 1 0 1 1 1 -1 1 0 1 0 1 0 1 -1 1 0 1 1 1 0 1 -1 1 0 1 1 1 80 1 -16 1 -10 1 -11 1 -7 1 -6 1 -6 1 -5 1 -6 1 -3 1 -6 1 -2 1 0 1 -2 1 -1 1 -1 1 6 1 -2 1 0 1 -1 1 0 1 -1 1 -1 1 -1 1 0 1 2 1 -1 1 1 1 1 1 0 1 0 1 -1 1 1 1 0 1 -1 1 1 1 -1 1 -1 1 1 1 0 1 -40 1 7 1 6 1 5 1 4 1 3 1 2 1 2 1 3 1 2 1 1 1 1 1 -1 1 -1 1 -1 1 0 1 0 1 1 1 -1 1 0 1 0 1 0 1 -3 1 0 1 0 1 0 1 1 1 1 1 -3 1 1 1 -1 1 1 1 -1 1 -1 1 3 1 -3 1 2 1 -1 1 2 1 1 1 -82 1 18 1 13 1 11 1 11 1 6 1 6 1 2 1 5 1 2 1 5 1 3 1 1 1 1 1 0 1 -1 1 0 1 -2 1 -2 1 2 1 -43 1 8 1 4 1 6 1 5 1 -3 1 4 1 2 1 5 1 0 1 1 1 2 1 0 1 0 1 0 1 0 1 2 1 2 1 1 1 1 1 0 1 4 1 0 1 1 1 2 1 1 1 2 1 1 1 0 1 1 1 0 1 0 1 0 1 -2 1 0 1 -4 1 -1 1 -2 1 -2 1 -1 1 0 1 2 1 -1 1 -2 1 0 1 -1 1 0 1 -2 1 0 1 1 1 1 1 0 1 0 1 0 1 0 1 -1 1 0 1 -1 1 1 1 -1 1 0 1 0 1 0 1 2 1 1 1 1 1 2 1 5 1 2 1 1 1 3 1 -1 1 0 1 0 1 2 1 -1 1 0 1 -2 1 1 1 1 1 -1 1 0 1 0 1 0 1 0 1 -1 1 1 1 -2 1 -2 1 -1 1 -1 1 -1 1 2 1 -1 1 -1 1 0 1 1 1 2 1 0 1 1 1 -3 1 5 1 -1 1 0 1 1 1 0 1 -1 1 1 1 -2 1 2 1 0 1 -1 1 0 1 0 1 0 1 0 1 2 1 0 1 1 1 -1 1 -1 1 1 1 -1 1 1 1 -1 1 1 1 1 1 -1 1 1 1 0 1 -1 1 -1 1 0 1 1 1 -1 1 1 1 -2 1 1 1 0 1 -1 1 0 1 2 1 -2 1 0 1 0 1 1 1 -2 1 0 1 0 1 3 1 0 1 -1 1 2 1 -1 1 1 1 -2 1 0 1 1 1 0 1 0 1 0 1 0 1 0 1 -1 1 1 1 0 1 -1 1 1 1 0 1 0 1 1 1 -1 1 1 1 -2 1 2 1 0 1 -2 1 0 1 0 1 1 1 -2 1 1 1 0 1 0 1 -1 1 -1 1 1 1 -1 1 -1 1 1 1 -75 1 13 1 12 1 8 1 9 1 5 1 4 1 4 1 4 1 3 1 2 1 1 1 2 1 2 1 2 1 -1 1 3 1 -1 1 -2 1 3 1 -2 1 2 1 1 1 -2 1 0 1 1 1 -4 1 0 1 2 1 -1 1 -3 1 2 1 0 1 -1 1 -5 1 6 1 -6 1 -1 1 1 1 -1 1 4 1 -3 1 1 1 3 1 -9 1 4 1 -5 1 8 1 0 1 -1 1 -10 1 6 1 4 1 -8 1 3 1 -5 1 10 1 2 1 0 1 -8 1 -3 1 8 1 -6 1 8 1 -8 1 2 1 5 1 -2 1 0 1 0 1 6 1 -4 1 -9 1 3 1 -3 1 4 1 2 1 1 1 -3 1 -4 1 12 1 -10 1 2 1 1 1 -3 1 1 1 9 1 -10 1 3 1 4 1 3 1 -8 1 1 1 -3 1 5 1 2 1 3 1 -6 1 1 1 3 1 1 1 -3 1 1 1 3 1 0 1 0 1 5 1 -4 1 5 1 0 1 -30 1 4 1 4 1 3 1 5 1 4 1 -2 1 4 1 1 1 1 1 3 1 -1 1 2 1 2 1 0 1 -1 1 3 1 -1 1 0 1 1 1 -1 1 2 1 -1 1 1 1 0 1 -1 1 0 1 0 1 1 1 0 1 0 1 0 1 1 1 1 1 -2 1 0 1 1 1 0 1 1 1 0 1 0 1 0 1 0 1 1 1 -1 1 -1 1 1 1 0 1 1 1 -1 1 0 1 1 1 0 1 -1 1 0 1 0 1 0 1 -1 1 1 1 1 1 -1 1 0 1 0 1 0 1 0 1 -1 1 0 1 0 1 0 1 0 1 0 1 0 1 0 1 1 1 0 1 -2 1 2 1 0 1 0 1 -1 1 1 1 1 1 0 1 -1 1 1 1 -1 1 0 1 -1 1 0 1 1 1 0 1 1 1 -1 1 0 1 1 1 -1 1 0 1 0 1 0 1 0 1 0 1 0 1 1 1 -1 1 -1 1 1 1 0 1 1 1 -2 1 1 1 0 1 0 1 1 1 -2 1 1 1 0 1 0 1 0 1 0 1 -1 1 -40 1 7 1 6 1 5 1 4 1 2 1 3 1 2 1 4 1 0 1 3 1 1 1 1 1 1 1 1 1 -1 1 0 1 1 1 0 1 -1 1 1 1 1 1 -2 1 1 1 1 1 -1 1 1 1 -1 1 1 1 1 1 -2 1 1 1 0 1 0 1 -2 1 1 1 -1 1 0 1 0 1 1 1 -83 1 14 1 12 1 9 1 9 1 6 1 6 1 5 1 3 1 3 1 3 1 1 1 3 1 3 1 0 1 2 1 1 1 1 1 0 1 1 1 -41 1 7 1 6 1 7 1 4 1 3 1 3 1 2 1 2 1 1 1 1 1 2 1 0 1 1 1 2 1 -1 1 1 1 1 1 0 1 0 1 0"/>
<path id="p_bt" d="M0 61l1 -326 1 -27 1 6 1 -17 1 7 1 -31 1 -18 1 72 1 -53 1 1 1 49 1 0 1 -52 1 -21 1 3 1 61 1 -50 1 61 1 -63 1 56 1 -52 1 17 1 -29 1 23 1 5 1 24 1 9 1 23 1 16 1 3 1 5 1 4 1 -4 1 4 1 4 1 0 1 3 1 1 1 2 1 0 1 -3 1 3 1 -7 1 -50 1 -21 1 17 1 16 1 -42 1 30 1 11 1 -27 1 -49 1 19 1 -15 1 42 1 -12 1 22 1 10 1 1 1 -22 1 -16 1 37 1 -34 1 -9 1 32 1 -34 1 59 1 -14 1 19 1 14 1 -8 1 6 1 -3 1 1 1 0 1 -2 1 0 1 6 1 4 1 2 1 4 1 -13 1 10 1 -10 1 9 1 -3 1 -5 1 11 1 -3 1 -3 1 1 1 6 1 -8 1 2 1 -3 1 -33 1 -14 1 45 1 -1 1 -51 1 -12 1 58 1 -27 1 21 1 -44 1 18 1 -2 1 10 1 -34 1 12 1 24 1 -40 1 17 1 -8 1 9 1 -6 1 -34 1 70 1 -47 1 106 1 1 1 0 1 27 1 2 1 15 1 8 1 -2 1 12 1 5 1 1 1 2 1 2 1 -5 1 4 1 1 1 6 1 -1 1 -8 1 2 1 97 1 -2 1 3 1 -2 1 1 1 -3 1 5 1 6 1 -1 1 -13 1 -14 1 16 1 -25 1 -49 1 27 1 -36 1 -9 1 16 1 16 1 9 1 -55 1 55 1 -77 1 41 1 -8 1 9 1 -8 1 -13 1 51 1 -23 1 -180 1 31 1 1 1 0 1 17 1 -1 1 3 1 10 1 -3 1 1 1 -2 1 1 1 -5 1 4 1 5 1 1 1 -6 1 1 1 6 1 -3 1 2 1 -5 1 -6 1 0 1 -11 1 -8 1 -11 1 -4 1 23 1 -64 1 -5 1 17 1 -32 1 42 1 -56 1 48 1 -45 1 -9 1 9 1 19 1 6 1 2 1 40 1 -28 1 41 1 -30 1 17 1 3 1 4 1 -1 1 210 1 9 1 -6 1 -10 1 6 1 3 1 -1 1 -15 1 12 1 -49 1 -25 1 25 1 6 1 -16 1 -43 1 8 1 10 1 17 1 15 1 -37 1 30 1 40 1 -70 1 39 1 -26 1 24 1 -42 1 69 1 -7 1 -9 1 20 1 1 1 14 1 -5 1 -3 1 9 1 -3 1 5 1 1 1 -7 1 10 1 -5 1 -6 1 15 1 -9 1 0 1 9 1 -31 1 -15 1 42 1 -44 1 -4 1 -18 1 33 1 5 1 -45 1 -15 1 2 1 27 1 38 1 -119 1 37 1 5 1 3 1 13 1 -13 1 12 1 2 1 -10 1 12 1 -13 1 24 1 -28 1 27 1 -11 1 10 1 -6 1 -15 1 5 1 -9 1 -27 1 2 1 -13 1 -17 1 -16 1 50 1 -27 1 26 1 -22 1 12 1 -3 1 44 1 -49 1 17 1 -33 1 17 1 30 1 -27 1 23 1 10 1 -52 1 11 1 34 1 1 1 -48 1 3 1 17 1 8 1 20 1 11 1 15 1 -4 1 17 1 1 1 -1 1 -1 1 0 1 11 1 1 1 -5 1 8 1 -1 1 -5 1 -13 1 0 1 -62 1 -6 1 54 1 -17 1 -44 1 45 1 24 1 -71 1 -16 1 36 1 17 1 -17 1 21 1 -42 1 56 1 223 1 34 1 -18 1 30 1 -16 1 -39 1 29 1 16 1 7 1 -9 1 26 1 12 1 20 1 5 1 12 1 -1 1 31 1 -4 1 6 1 2 1 3 1 -6 1 1 1 7 1 -3 1 6 1 -4 1 -20 1 15 1 -39 1 -34 1 -7 1 53 1 -52 1 2 1 10 1 -20 1 18 1 -8 1 8 1 -140 1 41 1 -26 1 -14 1 6 1 24 1 -23 1 -17 1 16 1 -61 1 55 1 -60 1 32 1 7 1 8 1 26 1 4 1 9 1 6 1 16 1 14 1 -5 1 4 1 2 1 3 1 8 1 6 1 5 1 -1 1 9 1 3 1 3 1 -8 1 -2 1 2 1 3 1 2 1 1 1 4 1 0 1 -229 1 1 1 -27 1 -20 1 12 1 5 1 -33 1 -7 1 2 1 21 1 -17 1 -15 1 -7 1 29 1 -27 1 66 1 -31 1 39 1 -12 1 -26 1 -122 1 27 1 -7 1 36 1 -8 1 9 1 15 1 9 1 13 1 1 1 4 1 12 1 9 1 4 1 0 1 -4 1 9 1 -2 1 6 1 11 1 -6 1 -20 1 -8 1 -27 1 3 1 -29 1 -93 1 111 1 -41 1 41 1 -12 1 73 1 -89 1 25 1 18 1 12 1 2 1 -12 1 -26 1 43 1 12 1 -30 1 39 1 12 1 -33 1 6 1 -10 1 84 1 -23 1 9 1 12 1 19 1 6 1 -136 1 133 1 10 1 -9 1 8 1 5 1 7 1 11 1 -7 1 1 1 8 1 -2 1 -1 1 -2 1 8 1 -1 1 1 1 0 1 -6 1 1 1 -2 1 8 1 -2 1 -6 1 -4 1 -23 1 -26 1 -12 1 -5 1 57 1 -54 1 11 1 -20 1 61 1 -62 1 -33 1 44 1 11 1 -34 1 -1 1 -5 1 26 1 -24 1 1 1 20 1 14 1 12 1 -6 1 21 1 -1 1 -9 1 30 1 -5 1 -6 1 4 1 -5 1 4 1 -73 1 81 1 7 1 5 1 -5 1 -27 1 -37 1 23 1 -46 1 -79 1 80 1 4 1 -4 1 9 1 -56 1 42 1 -68 1 110 1 -134 1 41 1 64 1 -7 1 44 1 -13 1 -39 1 21 1 -1 1 4 1 -7 1 26 1 88 1 29 1 1 1 9 1 3 1 1 1 9 1 13 1 -7 1 -4 1 6 1 2 1 6 1 2 1 -2 1 1 1 2 1 -1 1 1 1 -15 1 103 1 -70 1 30 1 -58 1 71 1 -36 1 -6 1 12 1 9 1 -22 1 32 1 -27 1 0 1 -7 1 11 1 -76 1 77 1 -52 1 48 1 39 1 -210 1 177 1 27 1 -15 1 1 1 14 1 -2 1 2 1 5 1 -3 1 -218 1 4 1 -13 1 -4 1 -2 1 2 1 -2 1 14 1 -24 1 -138 1 130 1 -11 1 -6 1 -13 1 27 1 -43 1 13 1 -19 1 -37 1 10 1 2 1 11 1 -3 1 -10 1 7 1 -2 1 36 1 4 1 -72 1 10 1 -38 1 48 1 41 1 -22 1 -35 1 29 1 50 1 -106 1 120 1 -71 1 28 1 11 1 14 1 -14 1 30 1 20 1 -1 1 -4 1 23 1 -9 1 221 1 19 1 -3 1 -29 1 33 1 -4 1 -15 1 1 1 8 1 -8 1 20 1 14 1 -21 1 -9 1 -15 1 2 1 -22 1 1 1 -26 1 22 1 21 1 4 1 -10 1 -7 1 -8 1 -26 1 49 1 19 1 29 1 0 1 21 1 7 1 8 1 1 1 2 1 3 1 1 1 -49 1 -8 1 43 1 -36 1 11 1 1 1 -25 1 -41 1 66 1 -2 1 -68 1 3 1 18 1 -6 1 7 1 -3 1 6 1 -36 1 75 1 -64 1 30 1 44 1 -36 1 -68 1 2 1 20 1 1 1 16 1 -49 1 51 1 9 1 4 1 3 1 2 1 -10 1 10 1 -7 1 -1 1 3 1 -1 1 2 1 0 1 16 1 -19 1 -5 1 13 1 -11 1 1 1 1 1 -34 1 -4 1 -52 1 -15 1 -3 1 56 1 -57 1 42 1 12 1 -69 1 24 1 33 1 22 1 -84 1 78 1 -72 1 58 1 11 1 -8 1 36 1 18 1 -5 1 1 1 11 1 5 1 -2 1 -5 1 5 1 10 1 8 1 5 1 -2 1 -13 1 18 1 -9 1 7 1 -2 1 -25 1 34 1 -62 1 -17 1 23 1 11 1 -12 1 31 1 -66 1 -8 1 15 1 1 1 14 1 -42 1 16 1 9 1 -1 1 316 1 41 1 -37 1 -7 1 31 1 -94 1 103 1 16 1 16 1 2 1 11 1 2 1 7 1 -138 1 125 1 1 1 33 1 3 1 3 1 0 1 3 1 -2 1 11 1 -2 1 -17 1 -7 1 -5 1 1 1 -32 1 38 1 -55 1 17 1 17 1 2 1 -33 1 -30 1 73 1 -56 1 20 1 -6 1 -95 1 -63 1 36 1 -54 1 16 1 32 1 17 1 -15 1 25 1 14 1 19 1 7 1 4 1 4 1 -4 1 -3 1 -1 1 5 1 0 1 6 1 9 1 0 1 6 1 -3 1 7 1 -65 1 62 1 -15 1 -14 1 -10 1 -14 1 35 1 -14 1 -14 1 -14 1 -25 1 47 1 -47 1 4 1 -12 1 -256 1 24 1 -10 1 -15 1 3 1 -10 1 10 1 2 1 26 1 -12 1 -32 1 5 1 42 1 -14 1 17 1 1 1 9 1 14 1 9 1 -4 1 -123 1 -6 1 7 1 7 1 -1 1 -5 1 -3 1 1 1 -1 1 11 1 -7 1 6 1 -8 1 5 1 -49 1 50 1 -22 1 20 1 -18 1 4 1 -12 1 -23 1 26 1 -15 1 5 1 -10 1 8 1 -15 1 22 1 7 1 -19 1 -3 1 8 1 10 1 14 1 10 1 7 1 -60 1 71 1 3 1 4 1 -3 1 -3 1 3 1 -49 1 48 1 -3 1 0 1 1 1 -1 1 -3 1 3 1 9 1 0 1 -51 1 47 1 -1 1 -1 1 7 1 -7 1 -8 1 -3 1 -37 1 32 1 -9 1 7 1 3 1 -6 1 -3 1 21 1 0 1 -20 1 7 1 -3 1 0 1 11 1 8 1 1 1 -4 1 -35 1 39 1 -1 1 3 1 5 1 -4 1 -4 1 5 1 -10 1 8 1 0 1 5 1 1 1 -9 1 8 1 1 1 -2 1 -5 1 -7 1 4 1 -19 1 -2 1 0 1 -17 1 11 1 -1 1 12 1 2 1 -45 1 32 1 -9 1 22 1 -14 1 1 1 -8 1 13 1 12 1 -12 1 6 1 16 1 -16 1 0 1 -57 1 52 1 -64 1 52 1 17 1 -6 1 8 1 -7 1 9 1 7 1 5 1 2 1 0 1 0 1 0 1 -4 1 8 1 -3 1 0 1 123 1 0 1 0 1 0 1 -13 1 -11 1 14 1 7 1 -27 1 14 1 -18 1 -13 1 11 1 18 1 -18 1 1 1 3 1 2 1 6 1 -14 1 153 1 -22 1 12 1 3 1 13 1 -4 1 2 1 -1 1 -1 1 -1 1 -6 1 10 1 -6 1 2 1 -6 1 -6 1 -3 1 -10 1 13 1 -18 1 19 1 -45 1 14 1 -23 1 13 1 -1 1 -9 1 -5 1 15 1 2 1 -242 1 2 1 -13 1 5 1 -17 1 0 1 31 1 0 1 -13 1 8 1 -20 1 23 1 -11 1 -29 1 25 1 -13 1 0 1 -4 1 -2 1 11 1 -9 1 14 1 17 1 -15 1 -17 1 21 1 -33 1 -15 1 35 1 -34 1 16 1 -3 1 -8 1 -24 1 -19 1 -24 1 15 1 31 1 -22 1 -38 1 -17 1 72 1 -19 1 6 1 -18 1 8 1 36 1 -69 1 14 1 14 1 225 1 -5 1 -4 1 36 1 32 1 -14 1 -45 1 35 1 -45 1 63 1 -48 1 -25 1 -2 1 23 1 -1 1 5 1 -3 1 39 1 -63 1 49 1 -9 1 7 1 -15 1 4 1 -4 1 -11 1 -20 1 38 1 -12 1 -17 1 16 1 -50 1 5 1 45 1 -30 1 24 1 33 1 -11 1 -29 1 -7 1 10 1 8 1 16 1 -25 1 17 1 29 1 -48 1 8 1 8 1 16 1 11 1 -34 1 32 1 -16 1 15 1 38 1 -43 1 17 1 18 1 22 1 -109 1 -6 1 37 1 -20 1 37 1 5 1 17 1 1 1 -13 1 2 1 -3 1 3 1 19 1 6 1 -3 1 9 1 7 1 -10 1 5 1 -1 1 -30 1 16 1 -5 1 -18 1 13 1 10 1 4 1 -10 1 -5 1 18 1 -12 1 -15 1 7 1 25 1 -12 1 19 1 13 1 4 1 2 1 6 1 2 1 10 1 -3 1 -4 1 4 1 0 1 -2 1 -5 1 -68 1 67 1 -31 1 25 1 -12 1 17 1 -78 1 35 1 -11 1 9 1 17 1 -12 1 -3 1 11 1 -19 1 23 1 -12 1 -2 1 -10 1 12 1 -6 1 18 1 18 1 5 1 3 1 5 1 9 1 -1 1 5 1 9 1 -6 1 3 1 334 1 0 1 2 1 -3 1 4 1 2 1 1 1 7 1 -3 1 4 1 -3 1 0 1 -3 1 0 1 -24 1 -14 1 5 1 2 1 29 1 -14 1 0 1 -23 1 26 1 -25 1 10 1 16 1 4 1 -6 1 -1 1 -6 1 23 1 -18 1 -15 1 5 1 9 1 -3 1 -14 1 27 1 -14 1 24 1 -136 1 8 1 3 1 3 1 3 1 7 1 -8 1 2 1 -1 1 2 1 0 1 -68 1 71 1 -2 1 -1 1 6 1 0 1 -3 1 -2 1 3 1 7 1 -12 1 -2 1 9 1 2 1 -11 1 -5 1 -2 1 -22 1 15 1 -6 1 12 1 -7 1 -8 1 -63 1 45 1 9 1 10 1 -22 1 -21 1 -231 1 -10 1 5 1 3 1 10 1 7 1 10 1 7 1 -1 1 -6 1 3 1 0 1 0 1 3 1 4 1 3 1 2 1 -7 1 -19 1 -50 1 -92 1 -1 1 4 1 -5 1 1 1 16 1 -27 1 21 1 -17 1 1 1 4 1 -17 1 1 1 4 1 -1 1 12 1 -4 1 -6 1 6 1 -6 1 -4 1 4 1 9 1 -1 1 19 1 -14 1 14 1 6 1 2 1 2 1 -1 1 4 1 0 1 -4 1 -3 1 -6 1 -4 1 3 1 6 1 -2 1 4 1 -26 1 -3 1 6 1 -3 1 -7 1 2 1 6 1 -7 1 10 1 -4 1 -29 1 12 1 8 1 -6 1 -6 1 10 1 -3 1 16 1 -28 1 7 1 -4 1 7 1 -3 1 24 1 -7 1 19 1 1 1 6 1 1 1 -3 1 1 1 -1 1 8 1 1 1 1 1 -1 1 -2 1 -2 1 -5 1 -4 1 -6 1 2 1 -17 1 18 1 -3 1 -6 1 1 1 -6 1 9 1 -7 1 -7 1 5 1 11 1 -21 1 24 1 -22 1 9 1 4 1 5 1 -5 1 -21 1 9 1 -45 1 43 1 26 1 -26 1 12 1 -3 1 -7 1 15 1 -6 1 -1 1 -4 1 10 1 4 1 6 1 1 1 7 1 -4 1 1 1 4 1 -8 1 4 1 1 1 4 1 -5 1 4 1 2 1 3 1 1 1 0 1 -3 1 -2 1 1 1 -13 1 -2 1 -19 1 16 1 -9 1 115 1 1 1 -1 1 -13 1 25 1 -10 1 9 1 -6 1 -7 1 9 1 -1 1 -8 1 -5 1 7 1 12 1 9 1 -4 1 10 1 8 1 0 1 131 1 4 1 -2 1 -4 1 3 1 -1 1 7 1 -43 1 37 1 -6 1 3 1 3 1 2 1 3 1 1 1 -2 1 0 1 1 1 -1 1 1 1 -37 1 34 1 -17 1 -57 1 46 1 -15 1 -6 1 -6 1 13 1 -11 1 -242 1 4 1 24 1 -3 1 -13 1 8 1 -17 1 6 1 13 1 -17 1 15 1 -9 1 -6 1 12 1 -20 1 9 1 2 1 -5 1 3 1 -6 1 1 1 8 1 2 1 -24 1 -7 1 24 1 -40 1 16 1 -43 1 6 1 -6 1 -28 1 -9 1 13 1 -28 1 36 1 -69 1 -10 1 -16 1 24 1 0 1 32 1 -88 1 18 1 -21 1 -30 1 91 1 -66 1 15 1 -6 1 229 1 -52 1 -5 1 -39 1 125 1 -25 1 5 1 34 1 -29 1 51 1 -56 1 14 1 -22 1 55 1 26 1 -23 1 62 1 8 1 -64 1 59 1 -5 1 35 1 -46 1 33 1 11 1 -16 1 52 1 -17 1 25 1 5 1 8 1 8 1 2 1 24 1 -2 1 13 1 5 1 -5 1 10 1 5 1 5 1 5 1 5 1 10 1 3 1 -4 1 7 1 2 1 8 1 3 1 -7 1 1 1 2 1 -1 1 4 1 1 1 7 1 3 1 0 1 -5 1 -95 1 -12 1 -37 1 35 1 0 1 -2 1 11 1 -11 1 1 1 -4 1 -11 1 15 1 -6 1 0 1 17 1 -3 1 -8 1 -6 1 14 1 0 1 1 1 1 1 7 1 1 1 -2 1 -2 1 -5 1 3 1 2 1 -4 1 7 1 -1 1 3 1 -1 1 -4 1 2 1 0 1 4 1 -3 1 4 1 -4 1 -8 1 1 1 2 1 1 1 -1 1 -9 1 11 1 -25 1 5 1 8 1 -7 1 7 1 -5 1 -1 1 -2 1 12 1 -5 1 -2 1 -2 1 -9 1 6 1 3 1 -35 1 22 1 0 1 10 1 -3 1 -3 1 -2 1 12 1 -13 1 6 1 6 1 4 1 0 1 5 1 4 1 0 1 -4 1 337 1 3 1 1 1 -3 1 -3 1 2 1 1 1 -2 1 4 1 -2 1 3 1 2 1 -14 1 -3 1 -1 1 9 1 15 1 1 1 6 1 -4 1 3 1 3 1 -2 1 -7 1 3 1 -4 1 2 1 -1 1 9 1 -2 1 -10 1 0 1 -5 1 14 1 -3 1 3 1 -1 1 -1 1 10 1 0 1 -135 1 5 1 2 1 0 1 -7 1 7 1 4 1 0 1 0 1 -3 1 -18 1 27 1 0 1 2 1 -5 1 -6 1 -2 1 -10 1 11 1 -1 1 -12 1 3 1 -6 1 -13 1 2 1 -15 1 39 1 -13 1 2 1 -12 1 -1 1 -25 1 6 1 28 1 3 1 -12 1 14 1 -33 1 0 1 17 1 -273 1 -24 1 16 1 2 1 11 1 -14 1 -15 1 8 1 9 1 15 1 -1 1 10 1 3 1 0 1 -5 1 4 1 -3 1 6 1 1 1 5 1 -142 1 3 1 6 1 -1 1 -3 1 0 1 5 1 3 1 -5 1 -3 1 -12 1 -1 1 -26 1 15 1 -8 1 7 1 -10 1 -13 1 5 1 -24 1 11 1 -4 1 20 1 -9 1 7 1 -2 1 0 1 -20 1 22 1 -4 1 -3 1 8 1 -5 1 -11 1 13 1 5 1 21 1 6 1 1 1 -4 1 -1 1 6 1 -2 1 8 1 1 1 -1 1 0 1 -4 1 3 1 -1 1 2 1 3 1 1 1 -5 1 -1 1 4 1 3 1 -5 1 -3 1 -3 1 0 1 3 1 -14 1 -9 1 -4 1 0 1 9 1 -12 1 -4 1 15 1 -19 1 18 1 -9 1 -13 1 14 1 1 1 -6 1 -3 1 2 1 -1 1 6 1 18 1 4 1 0 1 0 1 3 1 4 1 0 1 -6 1 3 1 9 1 -1 1 1 1 -3 1 -6 1 -10 1 -9 1 15 1 -11 1 -16 1 -12 1 10 1 1 1 7 1 10 1 -34 1 29 1 -7 1 11 1 -7 1 -31 1 -2 1 8 1 6 1 5 1 -9 1 7 1 -1 1 11 1 -6 1 -5 1 17 1 -30 1 13 1 1 1 -3 1 -5 1 2 1 21 1 19 1 0 1 -3 1 -6 1 6 1 9 1 1 1 6 1 0 1 -8 1 5 1 126 1 -1 1 1 1 -4 1 -1 1 -1 1 -3 1 -8 1 -6 1 -1 1 -5 1 5 1 -2 1 -6 1 -16 1 -4 1 10 1 13 1 -6 1 -19 1 151 1 0 1 -1 1 1 1 -8 1 -8 1 3 1 -3 1 7 1 -7 1 9 1 -14 1 25 1 -13 1 -3 1 11 1 3 1 -16 1 8 1 16 1 -15 1 9 1 0 1 6 1 0 1 8 1 -8 1 14 1 -4 1 -1 1 -248 1 -3 1 3 1 3 1 -9 1 -6 1 6 1 6 1 -3 1 -8 1 -2 1 -33 1 23 1 10 1 -17 1 -16 1 -8 1 -3 1 19 1 -1 1 -11 1 14 1 -20 1 -13 1 -2 1 10 1 -23 1 -6 1 -2 1 -2 1 -5 1 35 1 -31 1 -14 1 -36 1 29 1 33 1 -27 1 -32 1 -21 1 33 1 23 1 -19 1 25 1 -12 1 -33 1 58 1 -66 1 58 1 -61 1 283 1 -41 1 4 1 -7 1 -30 1 44 1 -17 1 13 1 -49 1 28 1 39 1 -11 1 -45 1 15 1 -39 1 50 1 -29 1 -52 1 31 1 15 1 -3 1 -6 1 -39 1 59 1 1 1 18 1 -18 1 -24 1 -4 1 3 1 8 1 4 1 12 1 27 1 23 1 9 1 19 1 -4 1 -24 1 49 1 -42 1 32 1 15 1 -18 1 -5 1 44 1 -34 1 3 1 37 1 -18 1 31 1 -18 1 7 1 15 1 -11 1 5 1 6 1 35 1 -10 1 -3 1 -92 1 3 1 5 1 19 1 -44 1 26 1 -5 1 -4 1 2 1 16 1 2 1 -5 1 6 1 -4 1 4 1 2 1 16 1 -7 1 -5 1 3 1 7 1 -2 1 6 1 -4 1 11 1 0 1 4 1 2 1 1 1 3 1 -3 1 -2 1 -2 1 5 1 6 1 3 1 -4 1 2 1 -2 1 5 1 -2 1 7 1 0 1 -2 1 0 1 1 1 3 1 -1 1 -4 1 2 1 -7 1 -1 1 7 1 -13 1 -4 1 -3 1 3 1 9 1 -8 1 14 1 -11 1 -2 1 3 1 -8 1 6 1 0 1 5 1 -6 1 7 1 -4 1 -1 1 5 1 6 1 3 1 -1 1 2 1 -2 1 1 1 -1 1 3 1 333 1 5 1 -4 1 3 1 2 1 -4 1 -2 1 -1 1 8 1 1 1 -1 1 -3 1 3 1 -4 1 -9 1 4 1 24 1 -6 1 3 1 8 1 -8 1 7 1 -5 1 -5 1 -5 1 9 1 -13 1 7 1 -5 1 10 1 -4 1 -3 1 4 1 -8 1 2 1 6 1 1 1 4 1 5 1 1 1 -134 1 -1 1 4 1 4 1 -1 1 1 1 3 1 -4 1 -4 1 -1 1 3 1 -2 1 -4 1 -1 1 11 1 2 1 -1 1 -4 1 6 1 -8 1 6 1 4 1 5 1 -7 1 -28 1 14 1 2 1 -21 1 14 1 -12 1 -2 1 1 1 7 1 2 1 3 1 -3 1 -5 1 -3 1 1 1 -1 1 -277 1 16 1 1 1 -2 1 6 1 -5 1 -6 1 -2 1 7 1 7 1 6 1 -2 1 1 1 -1 1 -2 1 0 1 6 1 -9 1 3 1 1 1 -139 1 2 1 1 1 -9 1 -2 1 -9 1 5 1 -6 1 13 1 -8 1 -4 1 5 1 -11 1 12 1 3 1 2 1 -3 1 -4 1 2 1 -15 1 21 1 0 1 -6 1 -4 1 -5 1 2 1 18 1 -17 1 7 1 0 1 9 1 -14 1 3 1 4 1 9 1 -1 1 -1 1 2 1 7 1 -3 1 -7 1 8 1 3 1 2 1 1 1 -7 1 -1 1 6 1 3 1 -2 1 -2 1 -10 1 -6 1 12 1 -11 1 7 1 -10 1 -4 1 10 1 5 1 -3 1 -8 1 4 1 -16 1 21 1 -10 1 6 1 5 1 -3 1 -9 1 8 1 2 1 4 1 3 1 -4 1 0 1 2 1 2 1 -2 1 5 1 -2 1 0 1 11 1 0 1 -4 1 -10 1 -2 1 5 1 -3 1 6 1 -4 1 2 1 -7 1 14 1 -3 1 -4 1 1 1 -12 1 8 1 -3 1 -3 1 1 1 -3 1 -20 1 24 1 -7 1 -5 1 5 1 -1 1 -4 1 11 1 0 1 -5 1 -1 1 -2 1 -2 1 -3 1 6 1 -1 1 0 1 1 1 1 1 1 1 -2 1 1 1 2 1 0 1 4 1 0 1 6 1 8 1 -1 1 -2 1 -2 1 -2 1 -4 1 -3 1 -18 1 21 1 -1 1 132 1 1 1 -9 1 4 1 -2 1 0 1 -1 1 0 1 -7 1 9 1 -11 1 0 1 -4 1 -2 1 3 1 -4 1 9 1 2 1 -8 1 -3 1 130 1 -7 1 5 1 1 1 -4 1 9 1 -5 1 -2 1 4 1 5 1 -2 1 6 1 7 1 -5 1 3 1 2 1 -2 1 -6 1 1 1 0 1 0 1 -4 1 0 1 8 1 2 1 -4 1 -3 1 1 1 -2 1 -7 1 -245 1 -2 1 -7 1 16 1 -4 1 -6 1 0 1 -7 1 -6 1 6 1 -8 1 4 1 -6 1 -4 1 -5 1 4 1 -21 1 8 1 11 1 -22 1 -10 1 -7 1 6 1 -5 1 -1 1 1 1 7 1 0 1 -23 1 8 1 4 1 11 1 -8 1 -14 1 -14 1 -11 1 20 1 -15 1 -31 1 37 1 11 1 -5 1 -38 1 -15 1 -28 1 43 1 11 1 -22 1 -11 1 32 1 231 1 -32 1 -6 1 32 1 -97 1 48 1 -15 1 -42 1 -7 1 10 1 23 1 -33 1 18 1 14 1 -62 1 105 1 -20 1 -37 1 7 1 57 1 -9 1 -54 1 -33 1 19 1 75 1 -104 1 55 1 -23 1 68 1 -52 1 37 1 -15 1 28 1 5 1 -67 1 38 1 -42 1 37 1 43 1 -59 1 30 1 25 1 14 1 -83 1 63 1 -14 1 47 1 -33 1 13 1 -13 1 3 1 19 1 -9 1 41 1 -24 1 2 1 53 1 3 1 -31 1 10 1 -98 1 8 1 39 1 -28 1 6 1 18 1 21 1 -21 1 31 1 5 1 0 1 4 1 4 1 7 1 -3 1 0 1 2 1 3 1 14 1 -7 1 1 1 7 1 -4 1 5 1 8 1 -2 1 -4 1 4 1 -3 1 5 1 -11 1 13 1 0 1 2 1 6 1 -1 1 -5 1 1 1 1 1 -2 1 10 1 5 1 -4 1 -2 1 7 1 0 1 -1 1 -6 1 -4 1 4 1 4 1 -1 1 4 1 9 1 0 1 -4 1 5 1 -3 1 2 1 2 1 -4 1 2 1 5 1 3 1 -6 1 -1 1 3 1 -3 1 2 1 -7 1 3 1 5 1 1 1 -5 1 1 1 -5 1 -13 1 17 1 -2 1 -8 1 337 1 -5 1 -1 1 -6 1 8 1 5 1 -6 1 10 1 -2 1 4 1 -1 1 1 1 -1 1 -5 1 0 1 5 1 28 1 0 1 3 1 3 1 2 1 -3 1 1 1 0 1 0 1 -2 1 1 1 -11 1 2 1 4 1 0 1 5 1 1 1 -3 1 -2 1 4 1 3 1 -1 1 0 1 1 1 -139 1 -8 1 2 1 -1 1 3 1 5 1 -9 1 -1 1 4 1 10 1 -10 1 -5 1 11 1 -4 1 -1 1 -8 1 -1 1 8 1 -8 1 5 1 5 1 1 1 -7 1 -1 1 0 1 5 1 8 1 -7 1 -1 1 -2 1 5 1 -1 1 3 1 1 1 0 1 -1 1 4 1 0 1 1 1 -8 1 -260 1 -2 1 -2 1 -6 1 -3 1 4 1 4 1 -10 1 0 1 5 1 -2 1 -2 1 0 1 4 1 -4 1 -7 1 4 1 3 1 5 1 -1 1 -137 1 -10 1 -2 1 7 1 1 1 -3 1 3 1 4 1 -7 1 -3 1 8 1 1 1 1 1 -5 1 2 1 1 1 3 1 2 1 -2 1 -3 1 -2 1 2 1 5 1 1 1 -1 1 -2 1 0 1 -4 1 1 1 -1 1 -1 1 1 1 -2 1 4 1 3 1 -6 1 2 1 -5 1 -3 1 8 1 -1 1 -11 1 0 1 2 1 6 1 3 1 0 1 -6 1 0 1 -1 1 5 1 3 1 -7 1 -1 1 -2 1 1 1 -1 1 -7 1 6 1 7 1 5 1 -1 1 3 1 -3 1 0 1 1 1 0 1 5 1 0 1 -1 1 -2 1 -1 1 0 1 -7 1 9 1 -5 1 -2 1 3 1 1 1 2 1 -6 1 -3 1 -1 1 6 1 -8 1 8 1 -7 1 -2 1 9 1 -3 1 1 1 -1 1 -2 1 1 1 7 1 -2 1 -7 1 -1 1 5 1 7 1 -22 1 14 1 1 1 2 1 -7 1 0 1 1 1 3 1 3 1 -4 1 10 1 2 1 -2 1 -5 1 0 1 1 1 1 1 -2 1 2 1 -1 1 -1 1 5 1 2 1 -1 1 -3 1 -4 1 3 1 4 1 -8 1 4 1 -6 1 2 1 4 1 -3 1 3 1 -3 1 -1 1 7 1 -3 1 2 1 121 1 -15 1 12 1 -3 1 -2 1 -1 1 4 1 2 1 -2 1 -8 1 16 1 -2 1 1 1 -1 1 7 1 -3 1 -9 1 5 1 -1 1 -7 1 129 1 -2 1 3 1 6 1 1 1 -5 1 3 1 -1 1 -3 1 1 1 8 1 -9 1 3 1 -2 1 -4 1 -1 1 0 1 -5 1 -8 1 8 1 -5 1 -10 1 8 1 2 1 0 1 -13 1 -2 1 4 1 2 1 -1 1 -251 1 -4 1 8 1 -3 1 -11 1 12 1 -9 1 2 1 -4 1 0 1 -5 1 -12 1 -17 1 7 1 -10 1 -11 1 16 1 6 1 -16 1 -3 1 -11 1 8 1 -21 1 -8 1 9 1 -20 1 0 1 33 1 7 1 -41 1 9 1 -3 1 -14 1 13 1 15 1 -10 1 9 1 -40 1 -14 1 -23 1 34 1 6 1 -32 1 18 1 -37 1 61 1 -23 1 -6 1 -57 1 42 1 236 1 15 1 -20 1 -59 1 12 1 36 1 -62 1 58 1 -93 1 5 1 33 1 45 1 -97 1 30 1 37 1 -51 1 52 1 -44 1 -36 1 -5 1 58 1 10 1 -63 1 21 1 -25 1 40 1 -22 1 12 1 -2 1 44 1 -18 1 -54 1 34 1 -14 1 -7 1 44 1 -3 1 35 1 -38 1 -22 1 68 1 31 1 -81 1 30 1 -24 1 6 1 30 1 8 1 7 1 -22 1 12 1 35 1 4 1 4 1 3 1 0 1 6 1 7 1 29 1 -21 1 -85 1 15 1 -1 1 17 1 21 1 16 1 -12 1 -10 1 28 1 3 1 -1 1 -16 1 21 1 -6 1 0 1 28 1 -18 1 5 1 7 1 10 1 7 1 9 1 -2 1 -1 1 -5 1 10 1 6 1 0 1 4 1 9 1 -5 1 6 1 6 1 3 1 -2 1 5 1 0 1 2 1 10 1 -1 1 4 1 0 1 6 1 1 1 2 1 0 1 3 1 -8 1 6 1 -5 1 2 1 6 1 1 1 -10 1 8 1 -1 1 -1 1 0 1 -1 1 8 1 -5 1 4 1 -6 1 -1 1 9 1 -3 1 2 1 -6 1 9 1 5 1 -2 1 2 1 -3 1 1 1 -2 1 3 1 3 1 -5 1 5 1 -6 1 332 1 -1 1 -1 1 3 1 1 1 4 1 -4 1 -1 1 -1 1 7 1 -10 1 -2 1 0 1 2 1 -5 1 5 1 29 1 8 1 -6 1 2 1 -3 1 -5 1 4 1 -5 1 9 1 -1 1 2 1 0 1 5 1 2 1 0 1 -6 1 0 1 6 1 -5 1 -4 1 2 1 -6 1 2 1 0 1 -136 1 3 1 3 1 3 1 0 1 2 1 -6 1 3 1 -10 1 2 1 1 1 -3 1 0 1 2 1 4 1 -4 1 7 1 -11 1 8 1 -1 1 -1 1 1 1 1 1 0 1 1 1 -3 1 0 1 2 1 0 1 -3 1 0 1 4 1 3 1 4 1 -4 1 1 1 -3 1 0 1 3 1 -3 1 -272 1 -4 1 1 1 0 1 -3 1 4 1 4 1 -1 1 1 1 -10 1 3 1 2 1 4 1 -18 1 12 1 4 1 2 1 -3 1 -1 1 -2 1 -135 1 0 1 -6 1 -5 1 0 1 6 1 7 1 -5 1 -7 1 1 1 3 1 -1 1 3 1 -2 1 8 1 -5 1 0 1 -1 1 4 1 -3 1 0 1 -1 1 6 1 3 1 3 1 -4 1 2 1 -5 1 1 1 3 1 0 1 -3 1 0 1 -1 1 -6 1 4 1 1 1 -2 1 1 1 2 1 -3 1 1 1 -4 1 0 1 -1 1 2 1 0 1 -1 1 4 1 -3 1 1 1 -6 1 1 1 5 1 -5 1 1 1 3 1 -7 1 2 1 7 1 -8 1 7 1 -2 1 6 1 1 1 5 1 0 1 1 1 -4 1 -5 1 0 1 5 1 -8 1 2 1 -8 1 1 1 1 1 1 1 -2 1 3 1 -3 1 11 1 -8 1 3 1 4 1 -7 1 -3 1 3 1 3 1 -1 1 2 1 -7 1 3 1 3 1 3 1 1 1 1 1 1 1 -2 1 -6 1 -5 1 6 1 -2 1 5 1 -3 1 2 1 2 1 0 1 5 1 1 1 3 1 -11 1 -5 1 1 1 -1 1 -1 1 5 1 -2 1 4 1 -3 1 -4 1 0 1 8 1 -6 1 5 1 2 1 2 1 -5 1 -2 1 -1 1 -8 1 -4 1 5 1 1 1 -1 1 6 1 -4 1 2 1 0 1 1 1 119 1 9 1 -5 1 4 1 0 1 1 1 3 1 -5 1 1 1 1 1 -3 1 -2 1 0 1 0 1 -2 1 -2 1 -2 1 5 1 -2 1 2 1 125 1 -4 1 -1 1 0 1 5 1 6 1 -3 1 -5 1 4 1 -6 1 2 1 3 1 -4 1 -5 1 3 1 -6 1 7 1 0 1 -3 1 1 1 7 1 -4 1 -3 1 -10 1 5 1 0 1 -9 1 -6 1 0 1 1 1 -256 1 5 1 -9 1 -4 1 4 1 -3 1 -3 1 12 1 -12 1 -7 1 -8 1 -4 1 4 1 11 1 3 1 -19 1 5 1 -5 1 1 1 -13 1 23 1 -16 1 -13 1 29 1 -20 1 -20 1 -9 1 17 1 -4 1 -3 1 -16 1 14 1 -6 1 -17 1 -18 1 36 1 -2 1 2 1 -28 1 0 1 -6 1 41 1 -77 1 4 1 -9 1 35 1 10 1 -62 1 26 1 -31 1 257 1 -37 1 -5 1 1 1 31 1 -27 1 32 1 10 1 -71 1 9 1 13 1 -40 1 21 1 3 1 11 1 -64 1 26 1 20 1 1 1 -26 1 -19 1 -32 1 111 1 3 1 -36 1 -37 1 5 1 71 1 -34 1 -17 1 6 1 -34 1 -61 1 85 1 -32 1 85 1 -134 1 118 1 -115 1 85 1 -70 1 90 1 -51 1 74 1 -50 1 -70 1 79 1 -46 1 68 1 -17 1 -40 1 -29 1 14 1 21 1 -4 1 -28 1 105 1 -88 1 92 1 -1 1 -112 1 13 1 17 1 30 1 -24 1 23 1 -30 1 -4 1 41 1 -38 1 18 1 -29 1 41 1 -34 1 19 1 -4 1 32 1 -45 1 -6 1 55 1 -15 1 -23 1 2 1 49 1 24 1 7 1 -52 1 59 1 -45 1 42 1 18 1 -16 1 17 1 16 1 -39 1 30 1 -21 1 13 1 -1 1 21 1 -26 1 23 1 -16 1 24 1 -19 1 13 1 5 1 10 1 -9 1 4 1 2 1 16 1 -3 1 -11 1 18 1 11 1 -7 1 -6 1 3 1 -1 1 13 1 -2 1 5 1 8 1 4 1 -5 1 8 1 8 1 1 1 2 1 0 1 6 1 -2 1 4 1 5 1 -6 1 -1 1 2 1 -2 1 5 1 335 1 8 1 3 1 -7 1 4 1 -2 1 -1 1 5 1 0 1 1 1 -4 1 -4 1 -1 1 5 1 -3 1 2 1 32 1 3 1 3 1 -2 1 4 1 -5 1 1 1 -6 1 3 1 6 1 -1 1 3 1 -4 1 1 1 -4 1 7 1 6 1 2 1 -5 1 0 1 -3 1 4 1 3 1 0 1 -135 1 -4 1 -7 1 1 1 -1 1 6 1 3 1 3 1 -1 1 2 1 -8 1 -1 1 5 1 -2 1 -9 1 -1 1 0 1 -3 1 9 1 6 1 -6 1 4 1 -6 1 -6 1 3 1 -3 1 -2 1 5 1 -5 1 5 1 -9 1 7 1 0 1 0 1 2 1 -1 1 -10 1 18 1 -1 1 -2 1 -274 1 1 1 3 1 -3 1 5 1 -7 1 6 1 -7 1 3 1 2 1 -7 1 -2 1 0 1 -2 1 -5 1 2 1 -9 1 2 1 -3 1 6 1 -145 1 -8 1 3 1 2 1 -14 1 -13 1 7 1 7 1 1 1 -8 1 11 1 -20 1 15 1 -14 1 10 1 18 1 -5 1 14 1 -1 1 6 1 -5 1 2 1 -1 1 -8 1 6 1 3 1 -30 1 25 1 -2 1 0 1 -5 1 3 1 1 1 3 1 -3 1 -2 1 3 1 -25 1 24 1 -4 1 5 1 -1 1 -9 1 -9 1 -12 1 19 1 -29 1 1 1 8 1 -13 1 18 1 7 1 -31 1 -7 1 22 1 3 1 3 1 -10 1 -8 1 -4 1 4 1 5 1 1 1 18 1 -19 1 30 1 0 1 -2 1 7 1 -1 1 -42 1 1 1 38 1 -7 1 -16 1 -5 1 -1 1 8 1 -16 1 20 1 -2 1 -38 1 15 1 -19 1 44 1 -29 1 4 1 -19 1 31 1 -6 1 -13 1 18 1 -20 1 24 1 -9 1 -9 1 -3 1 9 1 7 1 -28 1 41 1 -2 1 16 1 0 1 2 1 -3 1 8 1 -4 1 1 1 -5 1 7 1 0 1 1 1 -2 1 1 1 -1 1 0 1 3 1 0 1 -21 1 -15 1 -5 1 19 1 0 1 -1 1 -24 1 2 1 0 1 6 1 10 1 24 1 -6 1 -20 1 12 1 1 1 7 1 4 1 0 1 -5 1 -1 1 126 1 -2 1 5 1 1 1 2 1 -7 1 -2 1 6 1 3 1 -13 1 2 1 -1 1 -4 1 -81 1 58 1 -6 1 -21 1 32 1 -35 1 35 1 124 1 -10 1 2 1 8 1 -10 1 20 1 -30 1 29 1 15 1 3 1 -3 1 2 1 -3 1 6 1 -7 1 2 1 5 1 6 1 0 1 -3 1 -3 1 4 1 -14 1 -1 1 -6 1 -44 1 49 1 -20 1 -22 1 -4 1 -268 1 21 1 18 1 -12 1 -34 1 43 1 -11 1 23 1 -28 1 19 1 -32 1 2 1 2 1 18 1 2 1 -3 1 -80 1 55 1 -17 1 6 1 45 1 -76 1 40 1 12 1 -4 1 8 1 -71 1 60 1 -25 1 5 1 19 1 -6 1 24 1 -27 1 -12 1 27 1 -15 1 -22 1 35 1 -43 1 9 1 -20 1 20 1 -32 1 18 1 29 1 -15 1 -25 1 -49 1 39 1 189 1 16 1 33 1 -91 1 36 1 7 1 -36 1 1 1 -1 1 17 1 -12 1 -26 1 61 1 -27 1 54 1 -49 1 2 1 31 1 10 1 -27 1 -35 1 33 1 18 1 15 1 -49 1 34 1 5 1 -13 1 -9 1 36 1 1 1 3 1 -10 1 -4 1 -33 1 -3 1 -16 1 60 1 -44 1 22 1 21 1 -59 1 -1 1 -1 1 82 1 -58 1 56 1 1 1 -45 1 48 1 -16 1 -9 1 -22 1 35 1 6 1 26 1 -6 1 -14 1 -19 1 7 1 -77 1 17 1 -2 1 30 1 15 1 -1 1 22 1 -10 1 7 1 5 1 3 1 7 1 8 1 2 1 -6 1 4 1 3 1 9 1 6 1 -1 1 -4 1 -3 1 12 1 -7 1 12 1 -22 1 11 1 -16 1 25 1 -44 1 19 1 -13 1 -5 1 4 1 4 1 11 1 -1 1 0 1 0 1 -8 1 3 1 -2 1 5 1 -11 1 6 1 -2 1 -11 1 21 1 -19 1 3 1 31 1 -7 1 -8 1 18 1 7 1 -7 1 0 1 -3 1 11 1 14 1 -7 1 5 1 0 1 -1 1 8 1 -46 1 35 1 8 1 0 1 -3 1 0 1 7 1 -8 1 12 1 -36 1 34 1 -4 1 6 1 -1 1 -1 1 335 1 7 1 5 1 -7 1 -12 1 -10 1 -10 1 23 1 -10 1 -29 1 21 1 -5 1 -28 1 22 1 -5 1 7 1 33 1 2 1 11 1 -6 1 -10 1 -5 1 -3 1 19 1 -7 1 -5 1 -7 1 1 1 -9 1 25 1 -16 1 4 1 23 1 -15 1 -13 1 20 1 2 1 9 1 -2 1 7 1 -132 1 -1 1 -2 1 3 1 5 1 -5 1 10 1 -13 1 10 1 3 1 -3 1 -4 1 -14 1 0 1 -26 1 40 1 -35 1 8 1 -15 1 13 1 13 1 -34 1 -1 1 14 1 7 1 -1 1 -88 1 76 1 -24 1 9 1 -12 1 22 1 -19 1 14 1 14 1 -13 1 14 1 11 1 13 1 -1 1 -270 1 5 1 1 1 -2 1 -8 1 3 1 -9 1 4 1 11 1 -23 1 4 1 -6 1 -18 1 11 1 -2 1 0 1 10 1 -4 1 -6 1 -5 1 -109 1 -22 1 13 1 -10 1 18 1 -13 1 -3 1 -8 1 10 1 -5 1 -3 1 19 1 -4 1 2 1 -3 1 -12 1 3 1 25 1 -12 1 6 1 5 1 3 1 1 1 0 1 2 1 -4 1 4 1 -2 1 4 1 -31 1 25 1 3 1 -5 1 -9 1 9 1 8 1 -14 1 -15 1 -5 1 -3 1 2 1 -28 1 23 1 4 1 -2 1 11 1 -14 1 -7 1 -10 1 20 1 -2 1 1 1 14 1 -4 1 -17 1 -5 1 7 1 17 1 7 1 9 1 4 1 -5 1 0 1 4 1 2 1 1 1 4 1 -5 1 -2 1 5 1 -2 1 1 1 4 1 -51 1 47 1 -2 1 1 1 4 1 -2 1 7 1 -5 1 -1 1 -3 1 4 1 0 1 -1 1 -8 1 -9 1 -8 1 -2 1 -13 1 24 1 -11 1 -4 1 -5 1 7 1 -14 1 5 1 5 1 -14 1 31 1 -28 1 2 1 -7 1 24 1 -9 1 -6 1 12 1 -27 1 9 1 19 1 -13 1 -7 1 21 1 1 1 11 1 3 1 5 1 2 1 -9 1 5 1 -1 1 -45 1 38 1 -2 1 3 1 4 1 -3 1 -2 1 4 1 3 1 -10 1 3 1 4 1 5 1 10 1 -10 1 -14 1 5 1 -30 1 111 1 14 1 -13 1 9 1 -5 1 0 1 -15 1 0 1 -19 1 26 1 6 1 12 1 -2 1 -29 1 -5 1 -1 1 5 1 -11 1 23 1 3 1 127 1 0 1 4 1 -11 1 3 1 -9 1 33 1 -28 1 30 1 -18 1 8 1 -2 1 8 1 6 1 7 1 -11 1 -1 1 8 1 0 1 1 1 3 1 7 1 2 1 1 1 -56 1 45 1 4 1 -2 1 -4 1 1 1 -235 1 2 1 3 1 -1 1 -1 1 -6 1 -62 1 52 1 -6 1 -66 1 -35 1 57 1 4 1 8 1 -22 1 10 1 12 1 -5 1 -9 1 -18 1 16 1 -6 1 -7 1 25 1 -14 1 0 1 -5 1 -10 1 7 1 -13 1 42 1 -5 1 1 1 7 1 -23 1 5 1 7 1 -18 1 1 1 5 1 -3 1 -12 1 3 1 13 1 -5 1 -20 1 22 1 -10 1 -12 1 -5 1 275 1 -32 1 -67 1 55 1 -3 1 36 1 -12 1 -34 1 -30 1 14 1 -15 1 -15 1 -2 1 -52 1 16 1 15 1 -19 1 -14 1 41 1 46 1 -38 1 -60 1 29 1 -39 1 34 1 17 1 36 1 19 1 -32 1 28 1 2 1 21 1 -33 1 10 1 27 1 23 1 -27 1 3 1 3 1 8 1 -5 1 -8 1 39 1 -34 1 22 1 -21 1 -9 1 -10 1 16 1 9 1 -4 1 -15 1 35 1 -8 1 4 1 -4 1 -14 1 21 1 -23 1 16 1 -65 1 7 1 8 1 8 1 3 1 4 1 20 1 -12 1 17 1 -2 1 7 1 -8 1 7 1 1 1 4 1 -5 1 6 1 12 1 -2 1 5 1 -7 1 -12 1 0 1 -9 1 -15 1 -4 1 -27 1 39 1 -27 1 22 1 -74 1 73 1 3 1 -2 1 6 1 -8 1 -5 1 -5 1 22 1 -27 1 9 1 19 1 -14 1 -13 1 10 1 0 1 12 1 -6 1 -7 1 -2 1 -1 1 19 1 -15 1 20 1 -4 1 14 1 15 1 2 1 0 1 7 1 8 1 3 1 -3 1 -2 1 3 1 -5 1 6 1 8 1 3 1 4 1 -4 1 -8 1 -14 1 5 1 -10 1 -41 1 25 1 -12 1 13 1 -1 1 341 1 -4 1 -13 1 -3 1 7 1 -30 1 14 1 -10 1 -9 1 26 1 10 1 4 1 18 1 -2 1 16 1 3 1 26 1 -79 1 76 1 0 1 4 1 0 1 0 1 3 1 -25 1 18 1 8 1 3 1 4 1 -2 1 -7 1 8 1 1 1 -8 1 -16 1 15 1 -23 1 -2 1 1 1 -22 1 -139 1 11 1 3 1 -4 1 -14 1 -14 1 5 1 17 1 -93 1 101 1 -24 1 9 1 6 1 -15 1 -5 1 21 1 -1 1 22 1 -32 1 19 1 13 1 12 1 -1 1 1 1 5 1 2 1 1 1 8 1 0 1 2 1 -4 1 5 1 4 1 -8 1 -1 1 11 1 2 1 -4 1 -1 1 4 1 -272 1 -6 1 -1 1 -11 1 -1 1 2 1 -13 1 -23 1 6 1 -4 1 -15 1 30 1 -9 1 -21 1 -12 1 -12 1 30 1 -6 1 5 1 -45 1 -140 1 11 1 2 1 -2 1 14 1 -23 1 21 1 -1 1 -21 1 -1 1 32 1 -62 1 55 1 -32 1 -2 1 0 1 -13 1 7 1 35 1 9 1 8 1 -3 1 -1 1 -3 1 1 1 0 1 1 1 -6 1 2 1 -12 1 -13 1 -30 1 10 1 24 1 -46 1 7 1 6 1 -19 1 34 1 -25 1 -6 1 17 1 -9 1 22 1 16 1 -28 1 -3 1 -18 1 -20 1 39 1 -26 1 58 1 -50 1 49 1 -10 1 22 1 -4 1 10 1 1 1 2 1 -3 1 0 1 6 1 -3 1 -2 1 7 1 -2 1 5 1 -6 1 -5 1 -6 1 -11 1 -9 1 33 1 -69 1 22 1 1 1 -17 1 -10 1 -59 1 44 1 46 1 -32 1 35 1 -40 1 -4 1 -33 1 65 1 0 1 -10 1 -18 1 51 1 -13 1 15 1 -9 1 27 1 -12 1 3 1 2 1 1 1 5 1 -2 1 9 1 -2 1 8 1 -14 1 -8 1 -5 1 -19 1 -12 1 -54 1 31 1 25 1 10 1 -61 1 8 1 49 1 -14 1 -28 1 53 1 -27 1 -19 1 28 1 2 1 -25 1 63 1 -39 1 11 1 18 1 -17 1 17 1 7 1 -117 1 110 1 6 1 10 1 -3 1 -4 1 5 1 8 1 94 1 -6 1 -2 1 7 1 -2 1 -4 1 8 1 -116 1 113 1 5 1 7 1 -31 1 -11 1 -3 1 -14 1 7 1 -24 1 -30 1 51 1 -8 1 93 1 -8 1 -12 1 51 1 1 1 -26 1 -37 1 -14 1 -11 1 59 1 -43 1 16 1 40 1 -69 1 20 1 -6 1 12 1 32 1 -20 1 -3 1 -4 1 34 1 -74 1 55 1 19 1 -32 1 50 1 -17 1 -1 1 25 1 -181 1 -8 1 8 1 -120 1 122 1 -2 1 -2 1 -4 1 9 1 0 1 5 1 2 1 1 1 1 1 5 1 -1 1 0 1 -12 1 5 1 4 1 1 1 -9 1 -29 1 -2 1 4 1 -30 1 18 1 -4 1 12 1 -20 1 -21 1 2 1 16 1 10 1 -10 1 -40 1 46 1 -27 1 -16 1 44 1 -20 1 -9 1 37 1 -27 1 -21 1 41 1 4 1 -36 1 20 1 7 1 240 1 0 1 24 1 -65 1 73 1 6 1 -20 1 3 1 -2 1 26 1 -25 1 -9 1 -11 1 -10 1 27 1 -7 1 -46 1 28 1 -34 1 34 1 -6 1 0 1 -17 1 17 1 -141 1 106 1 -2 1 -9 1 2 1 -5 1 -22 1 25 1 39 1 -28 1 14 1 26 1 13 1 -6 1 -2 1 -38 1 62 1 8 1 -5 1 -23 1 8 1 15 1 3 1 -9 1 18 1 -3 1 5 1 11 1 -12 1 12 1 -10 1 -1 1 -12 1 14 1 -19 1 -35 1 -98 1 29 1 -105 1 71 1 -24 1 15 1 26 1 15 1 15 1 -14 1 3 1 -12 1 -31 1 47 1 -35 1 -2 1 30 1 39 1 -72 1 30 1 24 1 -7 1 24 1 15 1 -53 1 57 1 -5 1 2 1 7 1 2 1 10 1 -10 1 -1 1 6 1 14 1 1 1 -26 1 -24 1 -23 1 14 1 27 1 -64 1 39 1 18 1 -18 1 -39 1 -5 1 25 1 24 1 -36 1 11 1 -11 1 19 1 -19 1 -6 1 56 1 -22 1 -22 1 25 1 -29 1 4 1 15 1 13 1 -111 1 115 1 19 1 -2 1 0 1 4 1 8 1 0 1 13 1 2 1 2 1 -7 1 4 1 -71 1 51 1 -5 1 -13 1 301 1 22 1 -9 1 1 1 17 1 -41 1 1 1 -23 1 7 1 -16 1 7 1 10 1 49 1 -54 1 14 1 15 1 0 1 0 1 32 1 8 1 -10 1 -20 1 15 1 16 1 12 1 -6 1 7 1 14 1 -33 1 6 1 10 1 12 1 10 1 -8 1 9 1 2 1 16 1 -1 1 -4 1 3 1 -131 1 11 1 -7 1 0 1 -96 1 86 1 5 1 5 1 -9 1 -22 1 -9 1 12 1 -142 1 64 1 11 1 9 1 21 1 9 1 -51 1 24 1 16 1 -51 1 -8 1 30 1 -21 1 36 1 -16 1 13 1 -71 1 69 1 -21 1 31 1 -48 1 2 1 9 1 -13 1 28 1 5 1 6 1 9 1 -261 1 19 1 3 1 -1 1 8 1 -1 1 2 1 -96 1 85 1 -1 1 6 1 -2 1 -7 1 -24 1 -26 1 -10 1 10 1 -6 1 -28 1 61 1 -148 1 24 1 -45 1 49 1 -14 1 -136 1 137 1 4 1 0 1 -28 1 -8 1 4 1 -4 1 -2 1 -23 1 44 1 11 1 22 1 -40 1 30 1 -1 1 11 1 2 1 8 1 -5 1 11 1 9 1 -8 1 0 1 -7 1 -7 1 -5 1 -16 1 -33 1 30 1 -67 1 57 1 -36 1 -12 1 -18 1 72 1 10 1 -55 1 4 1 -24 1 50 1 -27 1 -41 1 27 1 43 1 -19 1 7 1 -5 1 -37 1 35 1 -43 1 13 1 -5 1 34 1 -60 1 12 1 47 1 -25 1 10 1 30 1 15 1 12 1 12 1 8 1 -4 1 2 1 6 1 0 1 -4 1 1 1 -3 1 2 1 -2 1 7 1 -6 1 -13 1 2 1 -3 1 -29 1 -19 1 -24 1 37 1 -23 1 1 1 -20 1 6 1 35 1 29 1 -50 1 -6 1 25 1 29 1 -21 1 15 1 4 1 -94 1 37 1 3 1 46 1 -23 1 -22 1 6 1 1 1 -23 1 -32 1 78 1 -46 1 12 1 27 1 15 1 30 1 -1 1 -1 1 5 1 -2 1 -11 1 4 1 0 1 -2 1 14 1 -24 1 -6 1 -3 1 3 1 10 1 -36 1 -19 1 -2 1 8 1 -10 1 1 1 10 1 15 1 -53 1 5 1 123 1 11 1 -19 1 -12 1 6 1 32 1 -15 1 -5 1 34 1 3 1 19 1 4 1 2 1 4 1 4 1 0 1 2 1 5 1 2 1 0 1 107 1 -8 1 6 1 -6 1 -2 1 2 1 -143 1 132 1 2 1 9 1 -2 1 -6 1 -26 1 -24 1 -54 1 75 1 -42 1 2 1 35 1 -52 1 26 1 19 1 -8 1 -59 1 50 1 -61 1 30 1 8 1 -67 1 56 1 -212 1 73 1 -45 1 30 1 15 1 -60 1 0 1 16 1 29 1 -40 1 37 1 -3 1 16 1 20 1 7 1 -1 1 -8 1 2 1 -3 1 5 1 3 1 -9 1 -6 1 3 1 -1 1 -13 1 -27 1 -9 1 -19 1 -84 1 75 1 42 1 -53 1 17 1 -25 1 27 1 6 1 -4 1 23 1 -18 1 -39 1 -30 1 18 1 12 1 24 1 -18 1 10 1 19 1 -35 1 -9 1 209 1 -6 1 60 1 -3 1 31 1 -21 1 25 1 12 1 0 1 -28 1 -9 1 31 1 -16 1 17 1 -20 1 1 1 20 1 -2 1 -7 1 4 1 3 1 -9 1 -19 1 6 1 -6 1 20 1 2 1 8 1 -25 1 -25 1 18 1 -27 1 -8 1 20 1 -27 1 -1 1 0 1 4 1 30 1 -23 1 -8 1 -34 1 22 1 -22 1 11 1 70 1 -28 1 -16 1 18 1 -19 1 24 1 26 1 -16 1 14 1 14 1 12 1 13 1 -12 1 25 1 -6 1 -64 1 -6 1 -5 1 2 1 4 1 -4 1 -25 1 -4 1 -51 1 14 1 -16 1 18 1 -30 1 3 1 -3 1 25 1 41 1 -36 1 24 1 32 1 -34 1 -42 1 1 1 33 1 -38 1 49 1 -67 1 31 1 -26 1 80 1 -7 1 15 1 -8 1 3 1 31 1 -3 1 10 1 3 1 0 1 -2 1 3 1 1 1 -5 1 9 1 -5 1 4 1 -1 1 -12 1 -5 1 -22 1 27 1 -48 1 -29 1 72 1 -35 1 -27 1 15 1 26 1 5 1 -40 1 18 1 5 1 -41 1 12 1 35 1 -18 1 -31 1 5 1 28 1 -12 1 4 1 -20 1 28 1 37 1 -48 1 -10 1 24 1 -17 1 38 1 -77 1 409 1 6 1 10 1 -78 1 73 1 2 1 1 1 -138 1 128 1 -112 1 111 1 6 1 9 1 -4 1 2 1 1 1 36 1 -3 1 9 1 -1 1 3 1 -2 1 3 1 -11 1 -1 1 8 1 -42 1 28 1 -21 1 -51 1 -16 1 59 1 -7 1 -9 1 18 1 -51 1 33 1 -32 1 56 1 -35 1 -194 1 40 1 -10 1 -10 1 -21 1 -10 1 59 1 13 1 13 1 4 1 13 1 22 1 2 1 -3 1 9 1 6 1 0 1 -1 1 8 1 -5 1 -7 1 7 1 11 1 -14 1 -15 1 -41 1 25 1 -37 1 51 1 -28 1 -39 1 26 1 -44 1 14 1 -30 1 -13 1 30 1 -9 1 12 1 48 1 -257 1 -36 1 -12 1 -78 1 88 1 1 1 17 1 -19 1 -22 1 35 1 -21 1 43 1 -12 1 30 1 14 1 10 1 6 1 1 1 -4 1 7 1 -105 1 -132 1 128 1 2 1 3 1 3 1 2 1 5 1 -4 1 1 1 1 1 -9 1 10 1 -4 1 2 1 -1 1 2 1 1 1 3 1 -11 1 11"/>
<path id="p_ld" d="M0 -61H120 V-183H140 V-311H170 V-61H220 V-341H280 V-244H360 V-579H376 V-609H400 V-475H440 V-201H460 V-61H600 V-183H620 V-311H650 V-61H700 V-341H760 V-244H840 V-579H856 V-609H880 V-475H920 V-201H940 V-61H1080 V-183H1100 V-311H1130 V-61H1180 V-341H1240 V-244H1320 V-579H1336 V-609H1360 V-475H1400 V-201H1420 V-61H1560 V-183H1580 V-311H1610 V-61H1660 V-341H1720 V-244H1800 V-579H1816 V-609H1840 V-475H1880 V-201H1900 V-61H2040 V-183H2060 V-311H2090 V-61H2140 V-341H2200 V-244H2280 V-579H2296 V-609H2320 V-475H2360 V-201H2380 V-61H2520 V-183H2540 V-311H2570 V-61H2620 V-341H2680 V-244H2760 V-579H2776 V-609H2800 V-475H2840 V-201H2860 V-61H3000 V-183H3020 V-311H3050 V-61H3100 V-341H3160 V-244H3240 V-579H3256 V-609H3280 V-475H3320 V-201H3340 V-61H3480 V-183H3500 V-311H3530 V-61H3580 V-341H3640 V-244H3720 V-579H3736 V-609H3760 V-475H3800 V-201H3820 V-61H3960 V-183H3980 V-311H4010 V-61H4060 V-341H4120 V-244H4200 V-579H4216 V-609H4240 V-475H4280 V-201H4300 V-61H4440 V-183H4460 V-311H4490 V-61H4540 V-341H4600 V-244H4680 V-579H4696 V-609H4720 V-475H4760 V-201H4780 V-61H4920 V-183H4940 V-311H4970 V-61H5020 V-341H5080 V-244H5160 V-579H5176 V-609H5200 V-475H5240 V-201H5260 V-61H5400 V-183H5420 V-311H5450 V-61H5500 V-341H5560 V-244H5640 V-579H5656 V-609H5680 V-475H5720 V-201H5740 V-61H5760"/>
<path id="p_gr" d="M0 0l1 -366 1 -71 1 25 1 -36 1 7 1 -60 1 -34 1 144 1 -94 1 7 1 94 1 -16 1 -106 1 -21 1 15 1 126 1 -99 1 103 1 -116 1 109 1 -105 1 27 1 -52 1 46 1 16 1 44 1 22 1 30 1 28 1 2 1 -3 1 -2 1 0 1 6 1 2 1 0 1 -4 1 3 1 -1 1 0 1 0 1 -1 1 -10 1 -104 1 -35 1 31 1 39 1 -75 1 62 1 22 1 -42 1 -85 1 28 1 -15 1 69 1 -23 1 46 1 22 1 -6 1 -43 1 -25 1 69 1 -68 1 -7 1 68 1 -68 1 111 1 -31 1 31 1 21 1 -21 1 16 1 -9 1 0 1 0 1 -2 1 5 1 2 1 3 1 3 1 2 1 -16 1 21 1 -21 1 12 1 -4 1 -6 1 19 1 -11 1 -19 1 13 1 8 1 -18 1 11 1 -5 1 -73 1 -19 1 89 1 5 1 -109 1 -16 1 116 1 -41 1 31 1 -101 1 40 1 8 1 29 1 -54 1 22 1 37 1 -70 1 32 1 -18 1 19 1 -2 1 -73 1 130 1 -89 1 30 1 -3 1 -1 1 58 1 10 1 26 1 13 1 -5 1 2 1 0 1 2 1 -1 1 1 1 -4 1 1 1 3 1 1 1 -1 1 0 1 -2 1 2 1 0 1 -1 1 0 1 0 1 -2 1 3 1 2 1 -4 1 -22 1 -18 1 31 1 -49 1 -90 1 65 1 -70 1 -2 1 23 1 32 1 26 1 -103 1 102 1 -145 1 81 1 -6 1 22 1 -21 1 -20 1 96 1 -45 1 19 1 55 1 2 1 0 1 30 1 -2 1 -3 1 6 1 -8 1 5 1 -5 1 5 1 -9 1 3 1 6 1 -6 1 -3 1 -2 1 4 1 -9 1 6 1 3 1 -11 1 -13 1 -17 1 -11 1 -14 1 -6 1 41 1 -118 1 -7 1 24 1 -52 1 87 1 -96 1 103 1 -94 1 -11 1 23 1 29 1 4 1 14 1 80 1 -59 1 64 1 -51 1 33 1 3 1 7 1 -7 1 1 1 17 1 -18 1 -15 1 11 1 -4 1 0 1 -27 1 15 1 -89 1 -35 1 50 1 25 1 -22 1 -87 1 22 1 31 1 26 1 20 1 -71 1 54 1 73 1 -128 1 77 1 -46 1 51 1 -87 1 134 1 -16 1 -22 1 34 1 5 1 24 1 -10 1 -2 1 18 1 -21 1 3 1 3 1 -12 1 25 1 -19 1 -14 1 32 1 -11 1 4 1 4 1 -60 1 -31 1 91 1 -83 1 -10 1 -34 1 70 1 16 1 -93 1 -26 1 11 1 55 1 74 1 -94 1 70 1 0 1 11 1 34 1 -42 1 24 1 12 1 -23 1 10 1 -13 1 36 1 -43 1 45 1 -27 1 21 1 -11 1 -25 1 13 1 -21 1 -43 1 6 1 -26 1 -29 1 -30 1 99 1 -47 1 52 1 -43 1 27 1 -9 1 84 1 -92 1 22 1 -61 1 47 1 46 1 -45 1 35 1 22 1 -108 1 23 1 67 1 1 1 -83 1 10 1 36 1 12 1 45 1 18 1 21 1 -23 1 35 1 1 1 -8 1 -1 1 -1 1 14 1 1 1 -11 1 13 1 -9 1 -12 1 -23 1 9 1 -107 1 -18 1 99 1 -32 1 -86 1 92 1 51 1 -142 1 -18 1 78 1 40 1 -28 1 37 1 -73 1 93 1 -109 1 65 1 -33 1 61 1 -38 1 -62 1 61 1 23 1 9 1 -27 1 33 1 26 1 36 1 5 1 7 1 -7 1 7 1 -12 1 7 1 -6 1 5 1 -9 1 -1 1 4 1 -7 1 4 1 -9 1 -32 1 26 1 -69 1 -46 1 -8 1 107 1 -99 1 4 1 27 1 -33 1 29 1 -12 1 21 1 5 1 68 1 -52 1 -22 1 13 1 40 1 -34 1 -28 1 11 1 -99 1 112 1 -110 1 62 1 17 1 23 1 51 1 6 1 7 1 2 1 23 1 6 1 -3 1 -3 1 -4 1 1 1 11 1 -8 1 12 1 -10 1 13 1 -4 1 1 1 -4 1 -6 1 6 1 4 1 -3 1 1 1 2 1 2 1 -6 1 8 1 -41 1 -29 1 29 1 8 1 -72 1 -4 1 9 1 41 1 -40 1 -22 1 -1 1 58 1 -58 1 130 1 -66 1 74 1 -23 1 -52 1 -30 1 52 1 -20 1 64 1 -12 1 11 1 31 1 3 1 33 1 -5 1 14 1 -1 1 8 1 21 1 -4 1 -11 1 15 1 -7 1 10 1 12 1 -15 1 -29 1 -17 1 -58 1 10 1 -45 1 -176 1 222 1 -76 1 87 1 -18 1 131 1 -175 1 55 1 17 1 27 1 5 1 -26 1 -54 1 89 1 28 1 -66 1 70 1 17 1 -54 1 14 1 -26 1 148 1 -55 1 16 1 19 1 37 1 -2 1 -259 1 265 1 2 1 -2 1 8 1 5 1 -3 1 14 1 -8 1 5 1 -6 1 7 1 -2 1 -4 1 3 1 1 1 -3 1 4 1 -1 1 -2 1 -4 1 8 1 -13 1 -10 1 1 1 -38 1 -53 1 -19 1 -8 1 102 1 -97 1 29 1 -38 1 119 1 -130 1 -50 1 99 1 18 1 -62 1 2 1 -15 1 54 1 -50 1 24 1 34 1 14 1 12 1 2 1 39 1 -5 1 -30 1 53 1 -17 1 -1 1 1 1 2 1 4 1 -145 1 164 1 -6 1 6 1 -10 1 -44 1 -63 1 45 1 -100 1 -143 1 161 1 22 1 -10 1 23 1 -96 1 78 1 -126 1 209 1 -257 1 85 1 125 1 -16 1 78 1 -17 1 -87 1 43 1 -7 1 -6 1 -2 1 51 1 -20 1 53 1 -7 1 21 1 14 1 3 1 0 1 9 1 -10 1 -1 1 2 1 4 1 -4 1 1 1 -3 1 -4 1 2 1 2 1 -5 1 -33 1 -35 1 -120 1 63 1 -92 1 140 1 -58 1 -7 1 27 1 15 1 -35 1 62 1 -38 1 -5 1 -21 1 39 1 -154 1 166 1 -106 1 104 1 62 1 -384 1 343 1 41 1 -35 1 -7 1 24 1 -16 1 -2 1 6 1 -6 1 -3 1 -1 1 -30 1 -10 1 1 1 10 1 -6 1 27 1 -48 1 -257 1 251 1 -11 1 -3 1 -33 1 55 1 -86 1 37 1 -31 1 -54 1 13 1 -1 1 21 1 -8 1 -12 1 20 1 3 1 67 1 1 1 -131 1 24 1 -69 1 87 1 74 1 -46 1 -63 1 47 1 110 1 -207 1 239 1 -140 1 60 1 17 1 21 1 -38 1 57 1 44 1 -24 1 -13 1 46 1 -11 1 -38 1 32 1 -9 1 -36 1 44 1 -13 1 -26 1 -4 1 17 1 -12 1 32 1 24 1 -32 1 -23 1 -31 1 3 1 -34 1 14 1 -45 1 47 1 53 1 -8 1 -28 1 -7 1 -14 1 -40 1 99 1 29 1 43 1 -7 1 30 1 1 1 2 1 -1 1 -5 1 -6 1 4 1 -96 1 -12 1 89 1 -74 1 26 1 -1 1 -49 1 -62 1 141 1 -16 1 -117 1 19 1 42 1 -22 1 12 1 9 1 7 1 -66 1 145 1 -123 1 52 1 78 1 -69 1 54 1 -7 1 40 1 -4 1 17 1 -99 1 99 1 -4 1 8 1 -1 1 -3 1 -12 1 15 1 0 1 -16 1 3 1 -15 1 12 1 -6 1 31 1 -30 1 -7 1 22 1 -18 1 -7 1 -3 1 -66 1 7 1 -75 1 -23 1 6 1 108 1 -101 1 74 1 32 1 -120 1 45 1 57 1 37 1 -148 1 157 1 -145 1 105 1 22 1 -15 1 67 1 17 1 -12 1 1 1 0 1 4 1 -3 1 -10 1 2 1 4 1 13 1 3 1 -4 1 -16 1 28 1 -18 1 5 1 4 1 -52 1 60 1 -101 1 -26 1 51 1 8 1 -8 1 67 1 -131 1 -9 1 31 1 12 1 18 1 -70 1 48 1 14 1 7 1 -42 1 72 1 -65 1 -13 1 59 1 -174 1 193 1 24 1 30 1 0 1 9 1 -3 1 -1 1 -254 1 244 1 -4 1 1 1 2 1 8 1 -3 1 1 1 -19 1 16 1 -3 1 -31 1 -7 1 -19 1 10 1 -53 1 72 1 -102 1 42 1 35 1 7 1 -71 1 -48 1 153 1 -106 1 35 1 -11 1 68 1 -106 1 78 1 -100 1 38 1 57 1 32 1 -34 1 47 1 13 1 24 1 1 1 -1 1 -6 1 2 1 -3 1 -6 1 8 1 -6 1 6 1 4 1 0 1 0 1 -6 1 14 1 -119 1 118 1 -19 1 -22 1 -23 1 -29 1 68 1 -18 1 -36 1 -12 1 -42 1 90 1 -79 1 12 1 -22 1 46 1 32 1 -8 1 -37 1 4 1 -5 1 36 1 -1 1 32 1 -41 1 -50 1 16 1 74 1 -28 1 28 1 5 1 12 1 18 1 0 1 -4 1 -9 1 -2 1 12 1 -1 1 2 1 -14 1 2 1 6 1 3 1 11 1 -11 1 1 1 -9 1 8 1 -91 1 98 1 -36 1 34 1 -38 1 17 1 -26 1 -47 1 48 1 -25 1 13 1 -15 1 16 1 -25 1 40 1 21 1 -42 1 -2 1 15 1 8 1 35 1 12 1 17 1 -131 1 131 1 -1 1 3 1 0 1 -1 1 1 1 -92 1 94 1 -1 1 2 1 0 1 -2 1 2 1 1 1 1 1 0 1 -96 1 98 1 -2 1 1 1 -2 1 -2 1 -20 1 0 1 -70 1 56 1 -21 1 23 1 11 1 -20 1 -11 1 32 1 1 1 -34 1 17 1 2 1 -2 1 16 1 16 1 2 1 -6 1 -65 1 76 1 -2 1 2 1 3 1 -7 1 5 1 0 1 -6 1 4 1 3 1 -4 1 4 1 -8 1 4 1 1 1 0 1 -7 1 -23 1 5 1 -27 1 1 1 7 1 -34 1 28 1 3 1 12 1 10 1 -82 1 67 1 -25 1 42 1 -28 1 0 1 -8 1 24 1 15 1 -21 1 5 1 24 1 -32 1 8 1 -105 1 105 1 -117 1 113 1 18 1 -10 1 15 1 -23 1 15 1 16 1 10 1 -3 1 5 1 -2 1 2 1 -3 1 1 1 0 1 0 1 -1 1 0 1 -4 1 -4 1 -16 1 -22 1 19 1 25 1 -52 1 33 1 -31 1 -24 1 23 1 22 1 -26 1 3 1 15 1 1 1 9 1 -22 1 43 1 -44 1 26 1 9 1 15 1 -1 1 0 1 -7 1 0 1 3 1 -8 1 7 1 -4 1 0 1 -7 1 -20 1 -4 1 -15 1 19 1 -30 1 47 1 -77 1 31 1 -40 1 24 1 12 1 -26 1 -12 1 30 1 12 1 -19 1 13 1 -36 1 21 1 -22 1 2 1 52 1 -5 1 -19 1 2 1 -38 1 38 1 -14 1 -39 1 44 1 -19 1 -8 1 -10 1 -2 1 31 1 -24 1 24 1 36 1 -20 1 -37 1 49 1 -67 1 -33 1 75 1 -71 1 26 1 -2 1 -21 1 -46 1 -30 1 -35 1 43 1 68 1 -48 1 -69 1 -30 1 133 1 -30 1 8 1 -27 1 14 1 64 1 -128 1 28 1 22 1 4 1 -8 1 -4 1 65 1 50 1 -49 1 -79 1 72 1 -78 1 113 1 -86 1 -42 1 10 1 40 1 -2 1 11 1 -4 1 75 1 -122 1 81 1 -7 1 -5 1 -20 1 16 1 -16 1 -21 1 -33 1 67 1 -17 1 -35 1 38 1 -88 1 23 1 89 1 -61 1 44 1 52 1 -29 1 -50 1 -9 1 20 1 12 1 31 1 -59 1 32 1 55 1 -86 1 6 1 13 1 26 1 28 1 -61 1 66 1 -26 1 10 1 63 1 -88 1 28 1 34 1 34 1 -24 1 -16 1 59 1 -36 1 66 1 -3 1 11 1 -12 1 -27 1 13 1 -3 1 3 1 32 1 -10 1 0 1 11 1 10 1 -25 1 0 1 9 1 -52 1 23 1 -13 1 -28 1 36 1 20 1 5 1 -16 1 -9 1 24 1 -19 1 -27 1 10 1 54 1 -24 1 22 1 28 1 4 1 -6 1 5 1 -4 1 11 1 -2 1 -5 1 3 1 0 1 -7 1 -12 1 -119 1 133 1 -50 1 38 1 -21 1 29 1 -143 1 81 1 -20 1 14 1 32 1 -25 1 -4 1 21 1 -35 1 47 1 -21 1 -8 1 -14 1 26 1 -6 1 32 1 31 1 3 1 5 1 -1 1 1 1 0 1 2 1 3 1 -4 1 5 1 -1 1 0 1 -1 1 0 1 2 1 0 1 0 1 1 1 1 1 0 1 0 1 0 1 -4 1 -6 1 -31 1 -37 1 18 1 -50 1 55 1 -10 1 4 1 -28 1 49 1 -49 1 22 1 19 1 2 1 0 1 0 1 -17 1 43 1 -35 1 -20 1 10 1 11 1 -1 1 -30 1 56 1 -33 1 29 1 11 1 8 1 11 1 2 1 -3 1 4 1 -3 1 -2 1 1 1 0 1 -1 1 -125 1 127 1 -7 1 1 1 3 1 0 1 -5 1 4 1 10 1 -5 1 -17 1 5 1 5 1 -1 1 -10 1 -9 1 -6 1 -37 1 36 1 -11 1 24 1 -14 1 -12 1 -112 1 93 1 15 1 24 1 -46 1 -37 1 75 1 -19 1 14 1 5 1 22 1 1 1 14 1 2 1 0 1 -5 1 5 1 -6 1 2 1 3 1 0 1 -1 1 1 1 -7 1 -30 1 -87 1 87 1 8 1 2 1 -10 1 2 1 34 1 -65 1 47 1 -34 1 2 1 3 1 -31 1 14 1 12 1 -12 1 28 1 -12 1 -2 1 12 1 -10 1 -11 1 7 1 12 1 -9 1 37 1 -17 1 32 1 0 1 -2 1 0 1 -4 1 3 1 0 1 0 1 -3 1 -4 1 -14 1 -9 1 14 1 -6 1 11 1 -50 1 6 1 7 1 -2 1 0 1 -2 1 2 1 -5 1 22 1 -6 1 -53 1 17 1 12 1 -6 1 -19 1 22 1 5 1 24 1 -50 1 22 1 -11 1 11 1 3 1 34 1 -4 1 27 1 1 1 2 1 -2 1 2 1 0 1 -1 1 5 1 2 1 -5 1 1 1 1 1 -1 1 -9 1 -13 1 -7 1 1 1 -24 1 32 1 -1 1 -16 1 4 1 -11 1 6 1 -4 1 -18 1 3 1 29 1 -30 1 47 1 -50 1 11 1 -3 1 16 1 -5 1 -35 1 29 1 -89 1 80 1 45 1 -52 1 25 1 -1 1 -13 1 30 1 -11 1 -1 1 -6 1 24 1 -3 1 8 1 2 1 11 1 -3 1 3 1 -1 1 -6 1 5 1 1 1 -1 1 -4 1 1 1 -2 1 8 1 -3 1 -4 1 1 1 2 1 -5 1 -17 1 2 1 -32 1 28 1 -22 1 2 1 -2 1 1 1 -17 1 53 1 -25 1 15 1 -12 1 -13 1 21 1 -1 1 -10 1 -16 1 15 1 16 1 11 1 1 1 10 1 2 1 -1 1 3 1 0 1 2 1 -1 1 -1 1 3 1 -1 1 -71 1 72 1 -1 1 0 1 1 1 -1 1 2 1 0 1 0 1 0 1 1 1 -3 1 -3 1 -55 1 55 1 -24 1 -106 1 100 1 -32 1 -1 1 -8 1 30 1 -15 1 -1 1 5 1 30 1 -2 1 -16 1 11 1 -30 1 10 1 15 1 -22 1 26 1 -24 1 1 1 24 1 -36 1 16 1 -1 1 -2 1 -2 1 -7 1 -4 1 12 1 13 1 -50 1 0 1 37 1 -69 1 30 1 -74 1 17 1 -21 1 -42 1 -14 1 26 1 -39 1 73 1 -128 1 -6 1 -23 1 48 1 -4 1 73 1 -173 1 32 1 -17 1 -44 1 164 1 -123 1 24 1 0 1 29 1 -103 1 6 1 -74 1 249 1 -56 1 19 1 64 1 -67 1 78 1 -102 1 23 1 -32 1 108 1 33 1 -48 1 94 1 8 1 -119 1 95 1 -14 1 58 1 -91 1 56 1 12 1 -30 1 87 1 -41 1 29 1 7 1 9 1 6 1 -4 1 25 1 -10 1 21 1 4 1 -3 1 13 1 -7 1 16 1 -8 1 -2 1 14 1 4 1 4 1 1 1 2 1 0 1 1 1 1 1 2 1 -2 1 0 1 1 1 -2 1 2 1 -3 1 -1 1 -8 1 4 1 -15 1 -55 1 63 1 -11 1 -7 1 31 1 -17 1 -1 1 -4 1 -15 1 24 1 -13 1 -3 1 20 1 1 1 -14 1 -8 1 24 1 2 1 2 1 -3 1 6 1 1 1 0 1 0 1 -1 1 -2 1 2 1 -3 1 1 1 3 1 1 1 -5 1 -1 1 0 1 1 1 0 1 -2 1 4 1 -7 1 5 1 -6 1 -1 1 0 1 -6 1 -1 1 12 1 -32 1 5 1 20 1 -17 1 7 1 -9 1 7 1 -5 1 9 1 6 1 -11 1 -4 1 -6 1 0 1 6 1 -56 1 49 1 2 1 10 1 1 1 -11 1 -2 1 16 1 -12 1 6 1 9 1 2 1 4 1 -2 1 10 1 -2 1 2 1 -2 1 1 1 3 1 -1 1 1 1 -2 1 0 1 0 1 1 1 -5 1 -1 1 2 1 -28 1 12 1 -2 1 17 1 -38 1 4 1 11 1 -9 1 1 1 11 1 16 1 -24 1 10 1 -4 1 4 1 -3 1 8 1 5 1 -10 1 -8 1 -17 1 24 1 -11 1 15 1 3 1 6 1 3 1 3 1 0 1 3 1 -3 1 1 1 0 1 -2 1 5 1 -4 1 3 1 0 1 -38 1 39 1 -2 1 2 1 -1 1 -6 1 -10 1 -9 1 10 1 3 1 -10 1 -5 1 -4 1 -14 1 0 1 -24 1 65 1 -20 1 -2 1 -20 1 6 1 -47 1 13 1 56 1 4 1 -26 1 18 1 -54 1 13 1 29 1 -1 1 -44 1 38 1 -6 1 29 1 -16 1 -31 1 13 1 17 1 26 1 -8 1 15 1 0 1 2 1 -2 1 -1 1 1 1 -3 1 4 1 0 1 -3 1 3 1 1 1 0 1 0 1 1 1 -1 1 1 1 0 1 -11 1 -6 1 -3 1 -46 1 28 1 -17 1 19 1 -18 1 -10 1 9 1 -45 1 27 1 -4 1 22 1 0 1 -1 1 -7 1 4 1 -39 1 58 1 -11 1 -16 1 16 1 -12 1 -21 1 32 1 14 1 37 1 1 1 -2 1 0 1 -2 1 4 1 -2 1 -2 1 1 1 0 1 3 1 -4 1 3 1 -4 1 3 1 -4 1 3 1 0 1 0 1 0 1 3 1 1 1 -3 1 -2 1 -1 1 -3 1 -30 1 -25 1 10 1 8 1 28 1 -37 1 4 1 27 1 -39 1 36 1 -26 1 -21 1 23 1 3 1 -6 1 -6 1 11 1 -8 1 10 1 34 1 10 1 0 1 3 1 -3 1 0 1 0 1 -2 1 5 1 -1 1 0 1 -2 1 -6 1 -4 1 -20 1 -16 1 22 1 -16 1 -29 1 -12 1 31 1 -7 1 15 1 24 1 -76 1 58 1 -18 1 23 1 -7 1 -59 1 10 1 18 1 11 1 13 1 -11 1 4 1 -6 1 22 1 -7 1 -27 1 37 1 -38 1 17 1 11 1 2 1 -18 1 11 1 28 1 19 1 -2 1 3 1 0 1 1 1 -2 1 2 1 -2 1 3 1 -4 1 0 1 1 1 -1 1 1 1 -1 1 -1 1 -1 1 -14 1 -4 1 -8 1 -9 1 -8 1 9 1 -10 1 10 1 -26 1 -7 1 27 1 19 1 -14 1 -26 1 34 1 -5 1 -9 1 5 1 -3 1 -18 1 18 1 -12 1 15 1 -21 1 25 1 -14 1 36 1 -37 1 -1 1 26 1 -2 1 -17 1 4 1 33 1 -22 1 12 1 2 1 7 1 -8 1 10 1 -5 1 9 1 -5 1 -8 1 3 1 1 1 -1 1 -2 1 -4 1 -4 1 7 1 4 1 -10 1 -9 1 1 1 -56 1 49 1 15 1 -28 1 -32 1 -10 1 -7 1 40 1 -8 1 -19 1 22 1 -28 1 -26 1 -3 1 21 1 -46 1 -9 1 9 1 2 1 -3 1 63 1 -59 1 -37 1 -54 1 54 1 76 1 -50 1 -50 1 -42 1 58 1 59 1 -37 1 48 1 -22 1 -71 1 93 1 -123 1 113 1 -110 1 69 1 -70 1 8 1 0 1 -47 1 80 1 -22 1 30 1 -91 1 49 1 73 1 -24 1 -88 1 34 1 -67 1 89 1 -49 1 -93 1 72 1 31 1 3 1 -16 1 -67 1 106 1 9 1 42 1 -48 1 -45 1 -3 1 2 1 21 1 2 1 20 1 47 1 31 1 3 1 37 1 -16 1 -55 1 80 1 -80 1 55 1 28 1 -38 1 -10 1 82 1 -73 1 6 1 69 1 -43 1 37 1 -28 1 11 1 25 1 -19 1 0 1 8 1 44 1 -9 1 -14 1 5 1 0 1 11 1 18 1 -68 1 47 1 -15 1 -1 1 3 1 27 1 -9 1 -4 1 8 1 -17 1 8 1 5 1 22 1 -9 1 -14 1 10 1 11 1 -5 1 0 1 -4 1 23 1 -3 1 1 1 4 1 -3 1 3 1 0 1 3 1 -2 1 2 1 0 1 1 1 -1 1 1 1 2 1 0 1 -1 1 1 1 0 1 1 1 1 1 0 1 -2 1 1 1 -9 1 2 1 -8 1 -5 1 12 1 -7 1 -10 1 1 1 -2 1 14 1 -23 1 24 1 -20 1 6 1 3 1 -16 1 15 1 6 1 7 1 -6 1 4 1 -2 1 -3 1 12 1 2 1 5 1 -1 1 0 1 1 1 0 1 -1 1 -1 1 0 1 0 1 0 1 -3 1 3 1 -2 1 0 1 -1 1 2 1 -1 1 0 1 -1 1 1 1 -6 1 -10 1 11 1 -8 1 -9 1 -4 1 15 1 -11 1 18 1 -13 1 0 1 -15 1 17 1 -21 1 15 1 -12 1 21 1 -11 1 -7 1 22 1 -25 1 15 1 5 1 7 1 0 1 2 1 3 1 0 1 0 1 0 1 1 1 1 1 2 1 2 1 -5 1 3 1 2 1 2 1 -1 1 -2 1 -2 1 2 1 -1 1 3 1 -2 1 1 1 -1 1 3 1 0 1 -1 1 -1 1 -44 1 34 1 0 1 -37 1 27 1 -11 1 -4 1 4 1 -2 1 -1 1 18 1 -2 1 -9 1 -7 1 4 1 -7 1 1 1 19 1 5 1 -7 1 8 1 -7 1 -10 1 -2 1 25 1 -1 1 7 1 -2 1 2 1 -1 1 0 1 -3 1 3 1 -1 1 -2 1 -1 1 0 1 -3 1 -1 1 -13 1 1 1 -12 1 4 1 -4 1 19 1 -6 1 6 1 -7 1 -18 1 28 1 -1 1 10 1 -19 1 -8 1 9 1 -17 1 33 1 -11 1 -5 1 4 1 -11 1 -5 1 26 1 -11 1 8 1 -15 1 8 1 -9 1 13 1 2 1 11 1 1 1 0 1 1 1 0 1 -1 1 1 1 0 1 0 1 0 1 -1 1 1 1 0 1 -1 1 1 1 -1 1 -6 1 -11 1 -9 1 14 1 -3 1 5 1 -9 1 -9 1 14 1 -3 1 -3 1 -2 1 12 1 -37 1 26 1 -7 1 7 1 13 1 -8 1 -5 1 11 1 5 1 4 1 1 1 -1 1 0 1 2 1 -1 1 -1 1 0 1 0 1 -1 1 3 1 -1 1 -1 1 1 1 0 1 0 1 0 1 0 1 0 1 0 1 -20 1 20 1 0 1 1 1 1 1 -2 1 0 1 -3 1 -3 1 -3 1 -10 1 -39 1 54 1 -10 1 -13 1 5 1 -7 1 -1 1 13 1 1 1 8 1 -11 1 -5 1 4 1 -4 1 8 1 1 1 -3 1 2 1 -4 1 7 1 -3 1 2 1 5 1 -1 1 3 1 1 1 5 1 2 1 0 1 -1 1 0 1 1 1 -1 1 0 1 -32 1 31 1 2 1 -1 1 -1 1 -2 1 4 1 -5 1 3 1 0 1 -5 1 -12 1 9 1 -13 1 7 1 -3 1 -5 1 1 1 -9 1 15 1 -1 1 -7 1 -7 1 21 1 -16 1 14 1 -13 1 -6 1 24 1 -7 1 -6 1 8 1 1 1 -8 1 11 1 6 1 1 1 -2 1 0 1 0 1 0 1 0 1 0 1 -3 1 0 1 -2 1 2 1 -2 1 -1 1 -2 1 -2 1 1 1 -5 1 2 1 5 1 -8 1 5 1 -5 1 -1 1 0 1 -12 1 -3 1 14 1 -22 1 -4 1 1 1 2 1 -6 1 9 1 -34 1 18 1 13 1 -36 1 -12 1 -16 1 16 1 -1 1 9 1 -1 1 21 1 -10 1 -49 1 24 1 3 1 17 1 -21 1 -22 1 -25 1 -23 1 38 1 -19 1 -49 1 69 1 18 1 -9 1 -94 1 -15 1 -30 1 93 1 15 1 -43 1 -28 1 61 1 -32 1 -59 1 11 1 67 1 -177 1 100 1 -29 1 -67 1 -12 1 39 1 52 1 -55 1 34 1 37 1 -118 1 198 1 -51 1 -72 1 8 1 107 1 -21 1 -102 1 -59 1 40 1 142 1 -194 1 119 1 -49 1 129 1 -105 1 68 1 -37 1 66 1 -2 1 -129 1 77 1 -85 1 70 1 82 1 -120 1 61 1 53 1 9 1 -154 1 127 1 -39 1 87 1 -66 1 14 1 -21 1 12 1 36 1 -24 1 79 1 -56 1 -1 1 86 1 -4 1 -59 1 15 1 2 1 10 1 64 1 -48 1 -1 1 28 1 40 1 -50 1 53 1 3 1 -20 1 14 1 -4 1 10 1 -3 1 -8 1 -2 1 6 1 16 1 -10 1 -3 1 8 1 -12 1 12 1 1 1 -2 1 -9 1 14 1 7 1 4 1 -19 1 9 1 6 1 -6 1 7 1 -1 1 -16 1 9 1 8 1 -2 1 6 1 -2 1 -3 1 10 1 -2 1 -4 1 12 1 -9 1 -6 1 3 1 8 1 -5 1 4 1 3 1 4 1 2 1 0 1 1 1 0 1 -1 1 0 1 0 1 0 1 1 1 -1 1 0 1 -1 1 0 1 3 1 -4 1 -3 1 0 1 -2 1 -7 1 4 1 -8 1 -22 1 33 1 4 1 -7 1 -6 1 2 1 0 1 -8 1 6 1 3 1 -2 1 4 1 -1 1 7 1 -2 1 -1 1 2 1 -10 1 5 1 4 1 -3 1 5 1 5 1 -1 1 2 1 -1 1 -1 1 0 1 0 1 1 1 1 1 -1 1 0 1 1 1 -2 1 0 1 1 1 -1 1 1 1 0 1 0 1 1 1 -3 1 0 1 -5 1 -7 1 -2 1 9 1 1 1 -4 1 -9 1 1 1 11 1 7 1 -11 1 -5 1 12 1 -11 1 8 1 -3 1 2 1 -3 1 -5 1 -1 1 10 1 0 1 -3 1 1 1 -5 1 10 1 5 1 -10 1 7 1 -8 1 3 1 7 1 -2 1 2 1 0 1 -1 1 1 1 0 1 0 1 -14 1 15 1 0 1 0 1 -1 1 -1 1 -6 1 2 1 -10 1 2 1 7 1 -7 1 -2 1 0 1 3 1 2 1 -3 1 3 1 5 1 -3 1 -3 1 2 1 -7 1 4 1 5 1 1 1 -10 1 9 1 2 1 -2 1 -11 1 12 1 0 1 4 1 2 1 1 1 1 1 0 1 0 1 0 1 -1 1 0 1 0 1 0 1 0 1 0 1 0 1 0 1 0 1 0 1 0 1 0 1 0 1 0 1 0 1 0 1 -1 1 0 1 0 1 -23 1 21 1 0 1 -8 1 -1 1 -3 1 9 1 0 1 -2 1 -5 1 2 1 7 1 -11 1 10 1 -6 1 6 1 -8 1 1 1 0 1 2 1 5 1 0 1 3 1 3 1 0 1 -1 1 1 1 -1 1 0 1 0 1 0 1 0 1 -1 1 0 1 0 1 0 1 -1 1 0 1 -3 1 -1 1 3 1 1 1 -11 1 -2 1 3 1 11 1 -10 1 3 1 -2 1 -5 1 9 1 3 1 0 1 -5 1 -4 1 0 1 5 1 2 1 -8 1 -5 1 10 1 0 1 -26 1 25 1 -3 1 11 1 -5 1 -1 1 2 1 2 1 1 1 0 1 0 1 2 1 0 1 0 1 0 1 -1 1 0 1 0 1 0 1 0 1 0 1 0 1 1 1 0 1 -1 1 1 1 -4 1 -2 1 -1 1 -1 1 -1 1 -1 1 4 1 -2 1 2 1 3 1 0 1 -3 1 0 1 -2 1 5 1 -21 1 19 1 -4 1 -1 1 1 1 6 1 -3 1 3 1 -13 1 16 1 0 1 -1 1 1 1 -1 1 0 1 0 1 -1 1 1 1 -1 1 0 1 -1 1 -1 1 1 1 -1 1 -1 1 1 1 -1 1 -6 1 -5 1 7 1 -1 1 1 1 -4 1 -1 1 1 1 0 1 -4 1 -11 1 13 1 -14 1 -8 1 14 1 1 1 0 1 -15 1 8 1 0 1 -1 1 1 1 0 1 -5 1 13 1 -13 1 -11 1 15 1 -18 1 4 1 -2 1 -6 1 -8 1 -4 1 -25 1 18 1 -17 1 -13 1 21 1 10 1 -25 1 -10 1 -18 1 15 1 -36 1 -11 1 24 1 -34 1 3 1 48 1 19 1 -77 1 21 1 -10 1 -17 1 28 1 27 1 -18 1 20 1 -83 1 -15 1 -40 1 72 1 7 1 -63 1 33 1 -69 1 127 1 -45 1 -9 1 -116 1 90 1 0 1 25 1 -35 1 -108 1 40 1 69 1 -109 1 113 1 -156 1 12 1 78 1 69 1 -177 1 70 1 67 1 -88 1 106 1 -90 1 -63 1 -3 1 105 1 19 1 -111 1 49 1 -49 1 76 1 -42 1 22 1 6 1 82 1 -55 1 -96 1 76 1 -43 1 -1 1 86 1 0 1 53 1 -79 1 -41 1 127 1 55 1 -159 1 60 1 -51 1 12 1 56 1 12 1 8 1 -37 1 10 1 58 1 3 1 7 1 -2 1 -14 1 14 1 3 1 46 1 -36 1 21 1 9 1 4 1 23 1 31 1 -1 1 -26 1 -17 1 48 1 -1 1 -5 1 -29 1 38 1 -25 1 3 1 47 1 -23 1 3 1 0 1 14 1 1 1 17 1 1 1 -1 1 -4 1 3 1 -1 1 0 1 7 1 14 1 -6 1 3 1 9 1 7 1 -9 1 12 1 3 1 -4 1 5 1 4 1 -3 1 -5 1 4 1 -1 1 0 1 4 1 0 1 -17 1 16 1 0 1 0 1 2 1 -1 1 -1 1 3 1 -10 1 5 1 3 1 1 1 3 1 -7 1 8 1 -1 1 1 1 0 1 2 1 0 1 -12 1 14 1 1 1 -1 1 0 1 1 1 0 1 0 1 0 1 0 1 0 1 0 1 0 1 -2 1 -5 1 -1 1 0 1 5 1 -3 1 0 1 -1 1 -1 1 4 1 -8 1 7 1 -3 1 0 1 1 1 5 1 -10 1 4 1 2 1 0 1 -1 1 -5 1 7 1 -10 1 12 1 0 1 2 1 0 1 0 1 1 1 0 1 -1 1 0 1 -1 1 2 1 -1 1 1 1 -2 1 1 1 0 1 0 1 0 1 -2 1 -1 1 -3 1 6 1 -9 1 3 1 -3 1 4 1 1 1 -8 1 1 1 3 1 2 1 -4 1 2 1 -16 1 19 1 -1 1 -3 1 2 1 7 1 -5 1 -2 1 6 1 -6 1 1 1 0 1 0 1 -2 1 1 1 1 1 3 1 2 1 0 1 1 1 1 1 0 1 0 1 0 1 0 1 0 1 0 1 0 1 0 1 -1 1 0 1 0 1 -1 1 -4 1 -2 1 5 1 -21 1 11 1 8 1 4 1 -6 1 -2 1 4 1 -1 1 1 1 -4 1 -5 1 5 1 4 1 0 1 -3 1 -1 1 -1 1 7 1 -8 1 3 1 1 1 4 1 -3 1 3 1 1 1 2 1 0 1 0 1 0 1 0 1 0 1 0 1 0 1 0 1 -1 1 0 1 0 1 0 1 0 1 -1 1 -1 1 -9 1 8 1 -2 1 0 1 -7 1 6 1 -6 1 8 1 -4 1 1 1 0 1 1 1 -1 1 3 1 0 1 -6 1 7 1 -8 1 3 1 3 1 -7 1 6 1 -2 1 0 1 3 1 1 1 -2 1 4 1 3 1 -1 1 1 1 0 1 0 1 0 1 0 1 0 1 -1 1 -2 1 0 1 -2 1 -14 1 9 1 4 1 -6 1 6 1 0 1 -6 1 5 1 -1 1 -1 1 3 1 0 1 -7 1 1 1 5 1 -3 1 2 1 -3 1 3 1 5 1 0 1 0 1 2 1 0 1 -1 1 0 1 0 1 0 1 0 1 1 1 -1 1 0 1 0 1 1 1 0 1 -1 1 -3 1 0 1 0 1 -1 1 4 1 -6 1 -1 1 -3 1 2 1 0 1 -3 1 3 1 8 1 -9 1 5 1 0 1 -1 1 0 1 0 1 2 1 -7 1 -1 1 0 1 6 1 -8 1 7 1 -5 1 4 1 1 1 -1 1 -2 1 5 1 2 1 1 1 -1 1 1 1 0 1 0 1 -1 1 1 1 -1 1 0 1 -3 1 -1 1 -2 1 -3 1 -1 1 4 1 -3 1 -1 1 4 1 -5 1 -1 1 0 1 3 1 4 1 -5 1 -1 1 3 1 0 1 2 1 -2 1 -5 1 5 1 -1 1 -3 1 6 1 -8 1 -3 1 -4 1 8 1 -12 1 11 1 -19 1 1 1 13 1 -25 1 -8 1 13 1 -2 1 -4 1 7 1 -14 1 1 1 7 1 -7 1 -4 1 14 1 -18 1 -8 1 -3 1 -12 1 12 1 22 1 -8 1 -35 1 14 1 -4 1 -1 1 -26 1 53 1 -30 1 -28 1 56 1 -33 1 -43 1 -11 1 38 1 -18 1 9 1 -25 1 28 1 -8 1 -38 1 -28 1 64 1 -13 1 11 1 -51 1 3 1 -12 1 77 1 -148 1 17 1 -20 1 77 1 20 1 -111 1 46 1 -53 1 30 1 -62 1 5 1 12 1 66 1 -44 1 62 1 3 1 -144 1 30 1 35 1 -61 1 47 1 9 1 17 1 -120 1 61 1 53 1 -7 1 -56 1 -23 1 -53 1 211 1 1 1 -77 1 -80 1 15 1 138 1 -62 1 -36 1 15 1 -56 1 -99 1 155 1 -59 1 155 1 -254 1 235 1 -222 1 170 1 -139 1 175 1 -95 1 137 1 -109 1 -131 1 157 1 -82 1 120 1 -34 1 -86 1 -44 1 37 1 35 1 -7 1 -44 1 185 1 -170 1 164 1 5 1 -76 1 17 1 42 1 56 1 -58 1 48 1 -56 1 -16 1 83 1 -69 1 26 1 -71 1 82 1 -50 1 17 1 -2 1 53 1 -77 1 -13 1 103 1 -37 1 -45 1 14 1 95 1 37 1 -8 1 -108 1 110 1 -88 1 69 1 27 1 -36 1 27 1 21 1 -69 1 48 1 -45 1 36 1 -8 1 32 1 -50 1 46 1 -29 1 51 1 -44 1 9 1 10 1 10 1 -14 1 9 1 -5 1 41 1 -10 1 -17 1 19 1 23 1 -18 1 -9 1 4 1 -8 1 16 1 -1 1 9 1 4 1 -2 1 10 1 5 1 3 1 -5 1 1 1 4 1 4 1 2 1 2 1 0 1 1 1 0 1 0 1 1 1 0 1 0 1 3 1 -2 1 -1 1 2 1 0 1 4 1 2 1 -6 1 2 1 -2 1 0 1 -2 1 -1 1 2 1 -7 1 3 1 5 1 2 1 -11 1 5 1 0 1 2 1 2 1 2 1 5 1 1 1 -2 1 3 1 1 1 0 1 0 1 0 1 0 1 1 1 -1 1 1 1 -1 1 0 1 1 1 0 1 0 1 0 1 0 1 0 1 0 1 0 1 0 1 0 1 -1 1 -1 1 -1 1 -2 1 -3 1 -3 1 -3 1 4 1 -6 1 12 1 -7 1 -3 1 1 1 2 1 -8 1 8 1 3 1 -5 1 0 1 -4 1 6 1 -3 1 3 1 1 1 -6 1 5 1 1 1 -15 1 24 1 -3 1 2 1 0 1 0 1 -3 1 2 1 0 1 -1 1 -1 1 1 1 0 1 -2 1 -3 1 -9 1 3 1 -2 1 -11 1 2 1 -13 1 1 1 0 1 18 1 -13 1 -11 1 8 1 -3 1 -19 1 1 1 0 1 7 1 13 1 -6 1 17 1 -41 1 26 1 -27 1 22 1 26 1 -12 1 18 1 1 1 -1 1 0 1 -2 1 0 1 0 1 -1 1 0 1 -50 1 48 1 2 1 -1 1 -9 1 11 1 -9 1 4 1 -2 1 -5 1 -1 1 -57 1 60 1 -6 1 6 1 2 1 -8 1 -25 1 -15 1 33 1 -52 1 2 1 19 1 -18 1 37 1 15 1 -60 1 -7 1 47 1 3 1 6 1 -19 1 -16 1 -10 1 6 1 8 1 11 1 31 1 -36 1 50 1 1 1 -2 1 0 1 0 1 -68 1 -9 1 73 1 -6 1 -20 1 -18 1 0 1 3 1 -35 1 44 1 1 1 -75 1 42 1 -38 1 73 1 -47 1 13 1 -34 1 49 1 -15 1 -18 1 34 1 -26 1 35 1 -23 1 -6 1 9 1 21 1 -6 1 -50 1 65 1 10 1 19 1 -3 1 -2 1 5 1 -1 1 -2 1 4 1 -8 1 5 1 -5 1 2 1 -4 1 4 1 -4 1 -3 1 3 1 2 1 -33 1 -32 1 -5 1 46 1 -4 1 -1 1 -47 1 6 1 4 1 6 1 19 1 40 1 -10 1 -27 1 21 1 13 1 8 1 -5 1 5 1 -11 1 0 1 7 1 -10 1 5 1 1 1 3 1 -5 1 -4 1 8 1 -1 1 -14 1 7 1 3 1 -16 1 -132 1 113 1 -10 1 -37 1 58 1 -76 1 64 1 6 1 -13 1 -4 1 13 1 -10 1 34 1 -60 1 50 1 17 1 7 1 -5 1 2 1 -3 1 2 1 -3 1 6 1 -5 1 -1 1 4 1 -5 1 5 1 2 1 -27 1 -8 1 -10 1 -67 1 84 1 -32 1 -36 1 10 1 -30 1 39 1 14 1 -17 1 -56 1 77 1 -14 1 44 1 -58 1 21 1 -62 1 22 1 14 1 25 1 7 1 -19 1 -147 1 122 1 -29 1 8 1 85 1 -131 1 72 1 19 1 -11 1 17 1 -136 1 116 1 -44 1 5 1 38 1 -7 1 43 1 -62 1 -17 1 45 1 -27 1 -48 1 73 1 -73 1 19 1 -38 1 46 1 -56 1 28 1 44 1 -28 1 -42 1 -89 1 79 1 -84 1 38 1 73 1 -161 1 71 1 19 1 -59 1 11 1 2 1 34 1 -23 1 -31 1 114 1 -50 1 94 1 -104 1 1 1 59 1 4 1 -50 1 -59 1 61 1 43 1 15 1 -86 1 64 1 8 1 -24 1 -19 1 57 1 3 1 -5 1 -14 1 -6 1 -69 1 3 1 -24 1 123 1 -95 1 46 1 39 1 -99 1 6 1 3 1 140 1 -111 1 102 1 -6 1 -89 1 89 1 -36 1 -17 1 -30 1 62 1 10 1 41 1 -27 1 -27 1 -35 1 16 1 28 1 27 1 -6 1 48 1 17 1 -2 1 30 1 -31 1 11 1 8 1 -4 1 7 1 6 1 3 1 -9 1 13 1 0 1 3 1 7 1 -5 1 10 1 -6 1 7 1 -22 1 6 1 -37 1 34 1 -34 1 49 1 -82 1 50 1 -18 1 -10 1 0 1 3 1 20 1 16 1 -7 1 1 1 -33 1 9 1 4 1 15 1 -15 1 11 1 10 1 -27 1 42 1 -49 1 7 1 51 1 -12 1 -35 1 33 1 17 1 -14 1 5 1 -11 1 19 1 21 1 -3 1 -5 1 0 1 3 1 4 1 -91 1 82 1 10 1 -10 1 6 1 -7 1 10 1 -8 1 10 1 -68 1 66 1 -1 1 -1 1 3 1 -1 1 0 1 3 1 -1 1 -4 1 -11 1 -14 1 -21 1 48 1 -12 1 -59 1 43 1 -18 1 -32 1 31 1 -5 1 12 1 12 1 -7 1 9 1 0 1 -25 1 2 1 -5 1 39 1 -24 1 -5 1 -12 1 10 1 -17 1 46 1 -27 1 15 1 26 1 -32 1 -19 1 34 1 -3 1 14 1 -3 1 12 1 1 1 3 1 -2 1 2 1 -1 1 -6 1 9 1 -9 1 6 1 0 1 -6 1 -7 1 -32 1 8 1 -36 1 70 1 -63 1 15 1 -16 1 25 1 18 1 -65 1 8 1 30 1 26 1 -12 1 -157 1 147 1 -51 1 20 1 -11 1 36 1 -30 1 32 1 23 1 -28 1 31 1 19 1 3 1 -5 1 0 1 7 1 -6 1 -5 1 0 1 -5 1 -11 1 8 1 5 1 -34 1 17 1 -3 1 -36 1 29 1 -9 1 4 1 6 1 -10 1 -3 1 -18 1 34 1 -30 1 26 1 -23 1 35 1 -28 1 -5 1 -14 1 21 1 -17 1 -6 1 47 1 -6 1 -2 1 -2 1 -19 1 8 1 42 1 -22 1 16 1 8 1 2 1 -6 1 2 1 2 1 -2 1 4 1 -6 1 1 1 -53 1 51 1 1 1 -8 1 -18 1 14 1 9 1 -21 1 -32 1 9 1 -2 1 0 1 -51 1 49 1 -10 1 1 1 18 1 -21 1 -22 1 -5 1 33 1 3 1 8 1 19 1 -10 1 -35 1 -6 1 15 1 30 1 8 1 13 1 13 1 -5 1 8 1 1 1 0 1 1 1 -1 1 -3 1 1 1 0 1 -1 1 0 1 1 1 -89 1 88 1 -1 1 0 1 1 1 -1 1 0 1 0 1 2 1 -2 1 1 1 -1 1 1 1 -12 1 -12 1 -19 1 3 1 -31 1 38 1 -18 1 -11 1 -3 1 15 1 -24 1 11 1 3 1 -20 1 63 1 -49 1 12 1 -21 1 34 1 -19 1 -4 1 22 1 -40 1 17 1 29 1 -28 1 -16 1 62 1 -12 1 16 1 1 1 7 1 0 1 -12 1 6 1 -4 1 -79 1 82 1 -3 1 2 1 2 1 -8 1 -4 1 11 1 -1 1 -16 1 6 1 4 1 1 1 9 1 -8 1 -18 1 6 1 -60 1 13 1 33 1 -26 1 14 1 2 1 -2 1 -18 1 0 1 -32 1 49 1 5 1 8 1 -8 1 -35 1 -12 1 17 1 9 1 -12 1 32 1 4 1 -1 1 -5 1 -4 1 -15 1 17 1 -27 1 61 1 -39 1 47 1 -34 1 12 1 -4 1 9 1 -5 1 20 1 -10 1 1 1 2 1 2 1 -4 1 3 1 1 1 1 1 8 1 -106 1 94 1 3 1 -1 1 -1 1 -2 1 -5 1 6 1 -3 1 -4 1 10 1 -4 1 -115 1 104 1 -8 1 -120 1 -55 1 105 1 3 1 16 1 -34 1 22 1 19 1 -14 1 -13 1 -37 1 48 1 -16 1 -24 1 51 1 -33 1 3 1 -9 1 -22 1 20 1 -20 1 79 1 -8 1 -12 1 29 1 -40 1 2 1 5 1 -27 1 -2 1 11 1 -8 1 -15 1 3 1 24 1 3 1 -50 1 44 1 -15 1 -22 1 -4 1 57 1 -75 1 -114 1 118 1 -9 1 72 1 -25 1 -69 1 -39 1 26 1 -20 1 -23 1 5 1 -74 1 37 1 38 1 -37 1 -25 1 82 1 85 1 -80 1 -100 1 64 1 -68 1 69 1 19 1 62 1 22 1 -59 1 62 1 -2 1 22 1 -69 1 30 1 39 1 25 1 -61 1 12 1 2 1 13 1 -10 1 -18 1 74 1 -68 1 40 1 -32 1 -34 1 -9 1 38 1 19 1 -12 1 -25 1 52 1 -14 1 16 1 -10 1 -28 1 46 1 -44 1 26 1 49 1 12 1 8 1 9 1 -1 1 -4 1 27 1 -23 1 20 1 -4 1 12 1 -17 1 9 1 -2 1 5 1 -6 1 -2 1 18 1 -12 1 10 1 -16 1 -21 1 0 1 -13 1 -21 1 0 1 -37 1 68 1 -43 1 41 1 -138 1 140 1 -1 1 -2 1 12 1 -16 1 -4 1 -20 1 35 1 -47 1 27 1 32 1 -22 1 -25 1 23 1 -4 1 12 1 -8 1 -19 1 0 1 5 1 32 1 -33 1 47 1 -4 1 24 1 10 1 3 1 -9 1 3 1 1 1 4 1 4 1 -6 1 4 1 0 1 0 1 2 1 2 1 0 1 -3 1 -11 1 -14 1 5 1 -26 1 -69 1 57 1 -9 1 20 1 -2 1 14 1 -24 1 -11 1 5 1 19 1 -62 1 45 1 -20 1 -2 1 43 1 10 1 7 1 17 1 -4 1 14 1 0 1 1 1 -149 1 147 1 1 1 -1 1 0 1 1 1 2 1 -44 1 44 1 0 1 -4 1 0 1 1 1 -1 1 2 1 -5 1 -16 1 -20 1 24 1 -44 1 1 1 5 1 -33 1 1 1 18 1 6 1 -1 1 -19 1 -15 1 12 1 33 1 -180 1 202 1 -48 1 14 1 15 1 -38 1 -5 1 31 1 3 1 44 1 -54 1 32 1 14 1 17 1 6 1 -3 1 2 1 -2 1 3 1 -2 1 1 1 1 1 1 1 -2 1 3 1 -4 1 3 1 1 1 -1 1 0 1 1 1 -2 1 0 1 2 1 -2 1 -19 1 -8 1 3 1 -23 1 -31 1 16 1 1 1 -27 1 49 1 -12 1 -38 1 -10 1 -17 1 55 1 -1 1 8 1 -80 1 -41 1 28 1 7 1 -4 1 27 1 -40 1 48 1 -4 1 -56 1 0 1 59 1 -116 1 115 1 -61 1 3 1 -6 1 -22 1 12 1 73 1 22 1 5 1 -4 1 3 1 -6 1 -6 1 0 1 -3 1 -1 1 1 1 -17 1 -36 1 -44 1 15 1 47 1 -80 1 12 1 16 1 -40 1 73 1 -49 1 -2 1 31 1 -18 1 35 1 26 1 -55 1 1 1 -25 1 -25 1 70 1 -58 1 106 1 -91 1 94 1 -22 1 51 1 -19 1 8 1 -1 1 -2 1 2 1 -4 1 8 1 -3 1 -8 1 9 1 -10 1 18 1 -10 1 -7 1 -14 1 -16 1 -28 1 61 1 -129 1 46 1 1 1 -27 1 -6 1 -98 1 83 1 90 1 -75 1 60 1 -61 1 -7 1 -64 1 127 1 -9 1 -10 1 -44 1 106 1 -26 1 22 1 -14 1 40 1 -22 1 12 1 1 1 1 1 5 1 -7 1 12 1 -14 1 13 1 -21 1 -14 1 -5 1 -39 1 -17 1 -90 1 57 1 50 1 21 1 -109 1 17 1 96 1 -30 1 -53 1 107 1 -58 1 -33 1 52 1 -5 1 -48 1 119 1 -73 1 20 1 30 1 -27 1 34 1 7 1 -216 1 225 1 3 1 4 1 -11 1 -1 1 6 1 5 1 3 1 -11 1 -1 1 11 1 -11 1 -4 1 1 1 -210 1 215 1 6 1 8 1 -54 1 -29 1 -7 1 -8 1 14 1 -32 1 -65 1 92 1 -16 1 -22 1 -2 1 -20 1 98 1 3 1 -43 1 -78 1 -27 1 1 1 113 1 -82 1 30 1 70 1 -140 1 45 1 0 1 28 1 54 1 -47 1 0 1 -7 1 62 1 -135 1 108 1 35 1 -70 1 93 1 -37 1 -2 1 40 1 36 1 -28 1 3 1 -227 1 237 1 1 1 -3 1 0 1 7 1 -4 1 6 1 -10 1 12 1 4 1 -4 1 7 1 -10 1 -12 1 5 1 -1 1 -3 1 -6 1 -51 1 -4 1 7 1 -43 1 22 1 -10 1 29 1 -33 1 -36 1 14 1 31 1 17 1 -15 1 -75 1 79 1 -44 1 -36 1 85 1 -31 1 -23 1 79 1 -45 1 -35 1 76 1 4 1 -69 1 39 1 10 1 18 1 -7 1 42 1 -115 1 129 1 2 1 -48 1 -2 1 6 1 34 1 -37 1 -21 1 -12 1 -19 1 52 1 -9 1 -87 1 60 1 -74 1 65 1 5 1 -4 1 -27 1 47 1 -269 1 217 1 -7 1 -6 1 6 1 -12 1 -28 1 48 1 58 1 -47 1 16 1 54 1 23 1 -33 1 -4 1 -78 1 114 1 10 1 -12 1 -35 1 6 1 24 1 -10 1 -11 1 34 1 -12 1 9 1 4 1 -15 1 21 1 -22 1 0 1 -24 1 27 1 -36 1 -54 1 -3 1 66 1 -188 1 138 1 -45 1 37 1 41 1 23 1 24 1 -23 1 9 1 -20 1 -63 1 84 1 -69 1 2 1 50 1 70 1 -144 1 63 1 42 1 -8 1 50 1 10 1 -97 1 106 1 -16 1 -3 1 -1 1 1 1 9 1 -15 1 -5 1 12 1 8 1 6 1 -46 1 -42 1 -28 1 32 1 49 1 -114 1 78 1 37 1 -46 1 -73 1 2 1 61 1 47 1 -61 1 27 1 -34 1 37 1 -37 1 -8 1 104 1 -45 1 -43 1 48 1 -59 1 20 1 23 1 24 1 -204 1 216 1 29 1 -4 1 2 1 -4 1 7 1 -9 1 10 1 3 1 1 1 -3 1 5 1 -132 1 96 1 -13 1 -19 1 -62 1 51 1 -8 1 -9 1 37 1 -62 1 -10 1 -25 1 29 1 -25 1 9 1 21 1 89 1 -108 1 31 1 34 1 -53 1 1 1 54 1 7 1 -8 1 -58 1 32 1 20 1 20 1 -9 1 13 1 29 1 -64 1 12 1 21 1 34 1 3 1 -25 1 16 1 -6 1 19 1 -1 1 5 1 3 1 -3 1 6 1 -2 1 -2 1 -178 1 173 1 3 1 2 1 -16 1 -45 1 -12 1 26 1 -255 1 149 1 14 1 20 1 47 1 21 1 -90 1 50 1 31 1 -94 1 -14 1 58 1 -42 1 68 1 -34 1 36 1 -132 1 127 1 -43 1 56 1 -80 1 6 1 12 1 -20 1 53 1 3 1 20 1 15 1 -2 1 23 1 2 1 -3 1 4 1 -4 1 8 1 -185 1 174 1 -2 1 3 1 -3 1 -14 1 -46 1 -43 1 -14 1 8 1 -12 1 -57 1 136 1 -81 1 60 1 -85 1 88 1 -20 1 -266 1 270 1 0 1 8 1 -64 1 0 1 16 1 -2 1 -14 1 -43 1 78 1 27 1 28 1 -77 1 50 1 6 1 17 1 0 1 17 1 -11 1 16 1 9 1 -5 1 -1 1 -13 1 -17 1 -10 1 -30 1 -62 1 67 1 -135 1 113 1 -77 1 -1 1 -34 1 139 1 18 1 -109 1 14 1 -40 1 94 1 -57 1 -72 1 60 1 88 1 -46 1 3 1 -7 1 -61 1 65 1 -78 1 29 1 -13 1 77 1 -108 1 16 1 88 1 -48 1 21 1 52 1 17 1 32 1 14 1 9 1 -1 1 -4 1 4 1 -6 1 -6 1 0 1 -9 1 5 1 -8 1 11 1 -26 1 2 1 -5 1 -11 1 -53 1 -33 1 -36 1 67 1 -43 1 3 1 -26 1 13 1 77 1 58 1 -112 1 -14 1 49 1 56 1 -39 1 23 1 9 1 -179 1 76 1 8 1 95 1 -53 1 -39 1 5 1 17 1 -47 1 -50 1 144 1 -85 1 12 1 62 1 27 1 46 1 -11 1 -3 1 10 1 -14 1 -14 1 8 1 0 1 -2 1 10 1 -35 1 -17 1 -6 1 5 1 27 1 -66 1 -38 1 4 1 15 1 -26 1 13 1 25 1 33 1 -106 1 25 1 46 1 35 1 -39 1 -29 1 5 1 60 1 -25 1 -16 1 67 1 8 1 40 1 4 1 1 1 3 1 -4 1 -2 1 -1 1 2 1 2 1 -6 1 4 1 -1 1 0 1 0 1 -8 1 0 1 -260 1 262 1 1 1 4 1 -3 1 -15 1 -49 1 -39 1 -87 1 162 1 -82 1 -3 1 64 1 -104 1 58 1 27 1 -14 1 -106 1 117 1 -121 1 67 1 22 1 -135 1 115 1 -53 1 146 1 -96 1 62 1 20 1 -118 1 18 1 23 1 57 1 -77 1 70 1 -1 1 33 1 20 1 8 1 -7 1 -9 1 9 1 -17 1 3 1 0 1 -2 1 -13 1 1 1 -2 1 -27 1 -54 1 -15 1 -29 1 -156 1 151 1 83 1 -95 1 47 1 -56 1 53 1 16 1 -15 1 54 1 -35 1 -74 1 -60 1 49 1 18 1 48 1 -36 1 25 1 19 1 -72 1 -2 1 -15 1 -2 1 107 1 2 1 49 1 -32 1 34 1 21 1 2 1 -49 1 -23 1 58 1 -44 1 29 1 -33 1 -1 1 30 1 -2 1 -8 1 1 1 14 1 -14 1 -46 1 18 1 -23 1 37 1 15 1 14 1 -53 1 -40 1 39 1 -46 1 -11 1 45 1 -55 1 5 1 12 1 -5 1 60 1 -50 1 -7 1 -59 1 44 1 -34 1 20 1 117 1 -55 1 -26 1 37 1 -39 1 57 1 37 1 -26 1 21 1 20 1 19 1 26 1 -26 1 29 1 -5 1 0 1 -10 1 -8 1 10 1 1 1 -20 1 -43 1 -10 1 -88 1 26 1 -25 1 41 1 -34 1 3 1 -5 1 46 1 82 1 -76 1 47 1 55 1 -66 1 -76 1 -1 1 85 1 -85 1 89 1 -136 1 66 1 -41 1 151 1 -22 1 23 1 -13 1 3 1 53 1 -11 1 13 1 2 1 -7 1 -2 1 2 1 6 1 -11 1 3 1 3 1 1 1 1 1 -27 1 -9 1 -37 1 49 1 -98 1 -53 1 156 1 -71 1 -59 1 38 1 47 1 5 1 -66 1 42 1 6 1 -85 1 20 1 78 1 -29 1 -66 1 25 1 36 1 -23 1 22 1 -30 1 41 1 76 1 -86 1 -19 1 42 1 -36 1 61 1 -143 1 195 1 -5 1 8 1 -146 1 140 1 7 1 -7 1 -252 1 254 1 -222 1 216 1 1 1 8 1 -7 1 -3 1 7 1 -2 1 -1 1 2 1 -1 1 -2 1 0 1 7 1 -19 1 -10 1 17 1 -83 1 54 1 -34 1 -100 1 -6 1 114 1 -7 1 -21 1 39 1 -98 1 75 1 -54 1 102 1 -69 1 -114 1 87 1 -4 1 -17 1 -26 1 -9 1 89 1 27 1 23 1 8 1 13 1 17 1 5 1 1 1 1 1 -1 1 -2 1 -3 1 2 1 0 1 -4 1 1 1 7 1 -31 1 -19 1 -87 1 62 1 -66 1 94 1 -45 1 -59 1 53 1 -75 1 47 1 -56 1 -23 1 65 1 -16 1 33 1 80 1 -51 1 -69 1 -14 1 -138 1 180 1 7 1 26 1 -47 1 -39 1 77 1 -51 1 79 1 -32 1 60 1 21 1 14 1 7 1 3 1 -3 1 8 1 -3 1 -253 1 250 1 2 1 3 1 -3 1 3 1 4 1 -4 1 0 1 3 1 -5 1 4 1 3 1 1 1 -3 1 -3 1 3 1 5 1 -20 1 1"/>
</defs>
<clipPath id="clipa"><rect x="85.50" y="0.75" width="599.80" height="240.35"/></clipPath>
<path d="M190.92 0.75V241.10M294.34 0.75V241.10M397.76 0.75V241.10M501.18 0.75V241.10M604.60 0.75V241.10M87.50 35.10H683.30M87.50 78.05H683.30M87.50 121.00H683.30M87.50 163.95H683.30M87.50 206.90H683.30" stroke="#dedede" stroke-width="1.4" fill="none"/>
<path d="M87.50 241.10V232.10M87.50 0.75V9.75M190.92 241.10V232.10M190.92 0.75V9.75M294.34 241.10V232.10M294.34 0.75V9.75M397.76 241.10V232.10M397.76 0.75V9.75M501.18 241.10V232.10M501.18 0.75V9.75M604.60 241.10V232.10M604.60 0.75V9.75M87.50 35.10H94.00M683.30 35.10H676.80M87.50 78.05H94.00M683.30 78.05H676.80M87.50 121.00H94.00M683.30 121.00H676.80M87.50 163.95H94.00M683.30 163.95H676.80M87.50 206.90H94.00M683.30 206.90H676.80" stroke="#333" stroke-width="2" fill="none"/>
<rect x="87.50" y="0.75" width="595.80" height="240.35" fill="none" stroke="#000" stroke-width="1.6"/>
<g clip-path="url(#clipa)"><g transform="matrix(0.103420 0 0 0.141034 87.500 121.000)" fill="none" stroke-width="21.27" stroke-linejoin="round">
<use href="#p_sc" stroke="#0072bd"/>
<use href="#p_bt" stroke="#ff0000"/>
<use href="#p_ld" stroke="#000000"/>
<use href="#p_gr" stroke="#00ff00"/>
</g></g>
<rect x="87.5" y="192.2" width="543" height="48.9" fill="#fff" stroke="#000" stroke-width="1.6"/>
<path d="M93.8 216.3H140.8" stroke="#0072bd" stroke-width="2.9"/>
<path d="M179.2 216.3H225.1" stroke="#ff0000" stroke-width="2.9"/>
<path d="M278.3 215.7H324.3" stroke="#000" stroke-width="2.9"/>
<path d="M383 215.7H430" stroke="#00ff00" stroke-width="2.9"/>
<text transform="translate(145.00 219.80) scale(0.720 1)" font-size="28.00" text-anchor="start" font-weight="normal">P</text>
<text transform="translate(156.00 233.20) scale(0.730 1)" font-size="23.00" text-anchor="start" font-weight="normal">sc</text>
<text transform="translate(229.60 219.80) scale(0.720 1)" font-size="28.00" text-anchor="start" font-weight="normal">P</text>
<text transform="translate(240.80 233.20) scale(0.730 1)" font-size="23.00" text-anchor="start" font-weight="normal">Batt</text>
<text transform="translate(329.50 219.80) scale(0.720 1)" font-size="28.00" text-anchor="start" font-weight="normal">P</text>
<text transform="translate(341.30 233.20) scale(0.730 1)" font-size="23.00" text-anchor="start" font-weight="normal">Load</text>
<text transform="translate(434.70 219.80) scale(0.720 1)" font-size="28.00" text-anchor="start" font-weight="normal">P</text>
<text transform="translate(445.90 233.20) scale(0.730 1)" font-size="23.00" text-anchor="start" font-weight="normal">pv</text>
<text transform="translate(461.50 217.80) scale(0.720 1)" font-size="28.00" text-anchor="start" font-weight="normal">-</text>
<text transform="translate(467.30 233.20) scale(0.730 1)" font-size="23.00" text-anchor="start" font-weight="normal">optimal</text>
<text transform="translate(517.30 219.80) scale(0.720 1)" font-size="28.00" text-anchor="start" font-weight="normal">+P</text>
<text transform="translate(540.50 233.20) scale(0.730 1)" font-size="23.00" text-anchor="start" font-weight="normal">wind</text>
<text transform="translate(572.50 217.80) scale(0.720 1)" font-size="28.00" text-anchor="start" font-weight="normal">-</text>
<text transform="translate(578.50 233.20) scale(0.730 1)" font-size="23.00" text-anchor="start" font-weight="normal">optmal</text>
<text transform="translate(79.30 45.30) scale(0.720 1)" font-size="29.00" text-anchor="end" font-weight="normal">1000</text>
<text transform="translate(79.30 88.25) scale(0.720 1)" font-size="29.00" text-anchor="end" font-weight="normal">500</text>
<text transform="translate(79.30 131.20) scale(0.720 1)" font-size="29.00" text-anchor="end" font-weight="normal">0</text>
<text transform="translate(79.30 174.15) scale(0.720 1)" font-size="29.00" text-anchor="end" font-weight="normal">-500</text>
<text transform="translate(79.30 217.10) scale(0.720 1)" font-size="29.00" text-anchor="end" font-weight="normal">-1000</text>
<text transform="translate(87.50 278.70) scale(0.720 1)" font-size="29.00" text-anchor="middle" font-weight="normal">0</text>
<text transform="translate(190.92 278.70) scale(0.720 1)" font-size="29.00" text-anchor="middle" font-weight="normal">50</text>
<text transform="translate(294.34 278.70) scale(0.720 1)" font-size="29.00" text-anchor="middle" font-weight="normal">100</text>
<text transform="translate(397.76 278.70) scale(0.720 1)" font-size="29.00" text-anchor="middle" font-weight="normal">150</text>
<text transform="translate(501.18 278.70) scale(0.720 1)" font-size="29.00" text-anchor="middle" font-weight="normal">200</text>
<text transform="translate(604.60 278.70) scale(0.720 1)" font-size="29.00" text-anchor="middle" font-weight="normal">250</text>
<text transform="translate(385.80 317.90) scale(0.757 1)" font-size="31.50" text-anchor="middle" font-weight="normal">Time (hours)</text>
<text transform="translate(17.6 121.4) rotate(-90) scale(1 0.76)" font-size="32.3" text-anchor="middle" stroke="#000" stroke-width="0.75">Powers (W)</text>
<text transform="translate(381.70 354.60) scale(1.030 1)" font-size="23.20" text-anchor="middle" font-weight="bold">(a)</text>
<clipPath id="clipb"><rect x="63.50" y="411.60" width="615.50" height="244.10"/></clipPath>
<path d="M171.66 411.60V655.70M277.83 411.60V655.70M383.99 411.60V655.70M490.15 411.60V655.70M596.32 411.60V655.70M65.50 452.40H677.00M65.50 534.40H677.00M65.50 616.40H677.00" stroke="#dedede" stroke-width="1.4" fill="none"/>
<path d="M65.50 655.70V646.70M65.50 411.60V420.60M171.66 655.70V646.70M171.66 411.60V420.60M277.83 655.70V646.70M277.83 411.60V420.60M383.99 655.70V646.70M383.99 411.60V420.60M490.15 655.70V646.70M490.15 411.60V420.60M596.32 655.70V646.70M596.32 411.60V420.60M65.50 452.40H72.00M677.00 452.40H670.50M65.50 534.40H72.00M677.00 534.40H670.50M65.50 616.40H72.00M677.00 616.40H670.50" stroke="#333" stroke-width="2" fill="none"/>
<rect x="65.50" y="411.60" width="611.50" height="244.10" fill="none" stroke="#000" stroke-width="1.6"/>
<g clip-path="url(#clipb)"><g transform="matrix(0.106163 0 0 0.134631 65.500 534.400)" fill="none" stroke-width="21.27" stroke-linejoin="round">
<use href="#p_sc" stroke="#0000ff"/>
<use href="#p_bt" stroke="#ff0000"/>
<use href="#p_ld" stroke="#000000"/>
<use href="#p_gr" stroke="#00ff00"/>
</g></g>
<rect x="65.5" y="607.3" width="550.8" height="48.4" fill="#fff" stroke="#000" stroke-width="1.6"/>
<path d="M71.4 631.1H118.7" stroke="#0000ff" stroke-width="2.9"/>
<path d="M162.4 630.9H208.1" stroke="#ff0000" stroke-width="2.9"/>
<path d="M260.8 630.9H307.2" stroke="#000" stroke-width="2.9"/>
<path d="M364.6 630.8H412" stroke="#00ff00" stroke-width="2.9"/>
<text transform="translate(122.90 634.80) scale(0.760 1)" font-size="26.60" text-anchor="start" font-weight="normal">P</text>
<text transform="translate(133.20 648.00) scale(0.730 1)" font-size="23.00" text-anchor="start" font-weight="normal">SC</text>
<text transform="translate(213.20 634.80) scale(0.760 1)" font-size="26.60" text-anchor="start" font-weight="normal">P</text>
<text transform="translate(224.00 648.00) scale(0.730 1)" font-size="23.00" text-anchor="start" font-weight="normal">Batt</text>
<text transform="translate(312.30 634.80) scale(0.760 1)" font-size="26.60" text-anchor="start" font-weight="normal">P</text>
<text transform="translate(323.10 648.00) scale(0.730 1)" font-size="23.00" text-anchor="start" font-weight="normal">Load</text>
<text transform="translate(416.30 634.80) scale(0.760 1)" font-size="26.60" text-anchor="start" font-weight="normal">P</text>
<text transform="translate(428.00 648.00) scale(0.730 1)" font-size="23.00" text-anchor="start" font-weight="normal">pv</text>
<text transform="translate(442.70 635.30) scale(0.760 1)" font-size="26.60" text-anchor="start" font-weight="normal">-</text>
<text transform="translate(449.60 648.00) scale(0.730 1)" font-size="23.00" text-anchor="start" font-weight="normal">optimal</text>
<text transform="translate(498.70 634.80) scale(0.760 1)" font-size="26.60" text-anchor="start" font-weight="normal">+P</text>
<text transform="translate(521.30 648.00) scale(0.730 1)" font-size="23.00" text-anchor="start" font-weight="normal">wind</text>
<text transform="translate(554.60 635.30) scale(0.760 1)" font-size="26.60" text-anchor="start" font-weight="normal">-</text>
<text transform="translate(559.70 648.00) scale(0.730 1)" font-size="23.00" text-anchor="start" font-weight="normal">optimal</text>
<text transform="translate(56.20 461.80) scale(0.720 1)" font-size="29.00" text-anchor="end" font-weight="normal">1</text>
<text transform="translate(56.20 543.80) scale(0.720 1)" font-size="29.00" text-anchor="end" font-weight="normal">0</text>
<text transform="translate(56.20 625.80) scale(0.720 1)" font-size="29.00" text-anchor="end" font-weight="normal">-1</text>
<text transform="translate(65.50 693.60) scale(0.720 1)" font-size="29.00" text-anchor="middle" font-weight="normal">0</text>
<text transform="translate(171.66 693.60) scale(0.720 1)" font-size="29.00" text-anchor="middle" font-weight="normal">50</text>
<text transform="translate(277.83 693.60) scale(0.720 1)" font-size="29.00" text-anchor="middle" font-weight="normal">100</text>
<text transform="translate(383.99 693.60) scale(0.720 1)" font-size="29.00" text-anchor="middle" font-weight="normal">150</text>
<text transform="translate(490.15 693.60) scale(0.720 1)" font-size="29.00" text-anchor="middle" font-weight="normal">200</text>
<text transform="translate(596.32 693.60) scale(0.720 1)" font-size="29.00" text-anchor="middle" font-weight="normal">250</text>
<text transform="translate(65.80 408.80) scale(0.860 1)" font-size="33.00" text-anchor="start" font-weight="normal">×</text>
<text transform="translate(83.00 405.30) scale(0.690 1)" font-size="29.00" text-anchor="start" font-weight="normal">10</text>
<text transform="translate(103.30 392.60) scale(0.720 1)" font-size="22.80" text-anchor="start" font-weight="normal">4</text>
<text transform="translate(372.00 732.10) scale(0.757 1)" font-size="31.50" text-anchor="middle" font-weight="normal">Time (hours)</text>
<text transform="translate(17.0 534.8) rotate(-90) scale(1 0.76)" font-size="32.4" text-anchor="middle" stroke="#000" stroke-width="0.75">Powers (W)</text>
<text transform="translate(373.30 763.30) scale(1.030 1)" font-size="23.20" text-anchor="middle" font-weight="bold">(b)</text>
</svg></body></html>
